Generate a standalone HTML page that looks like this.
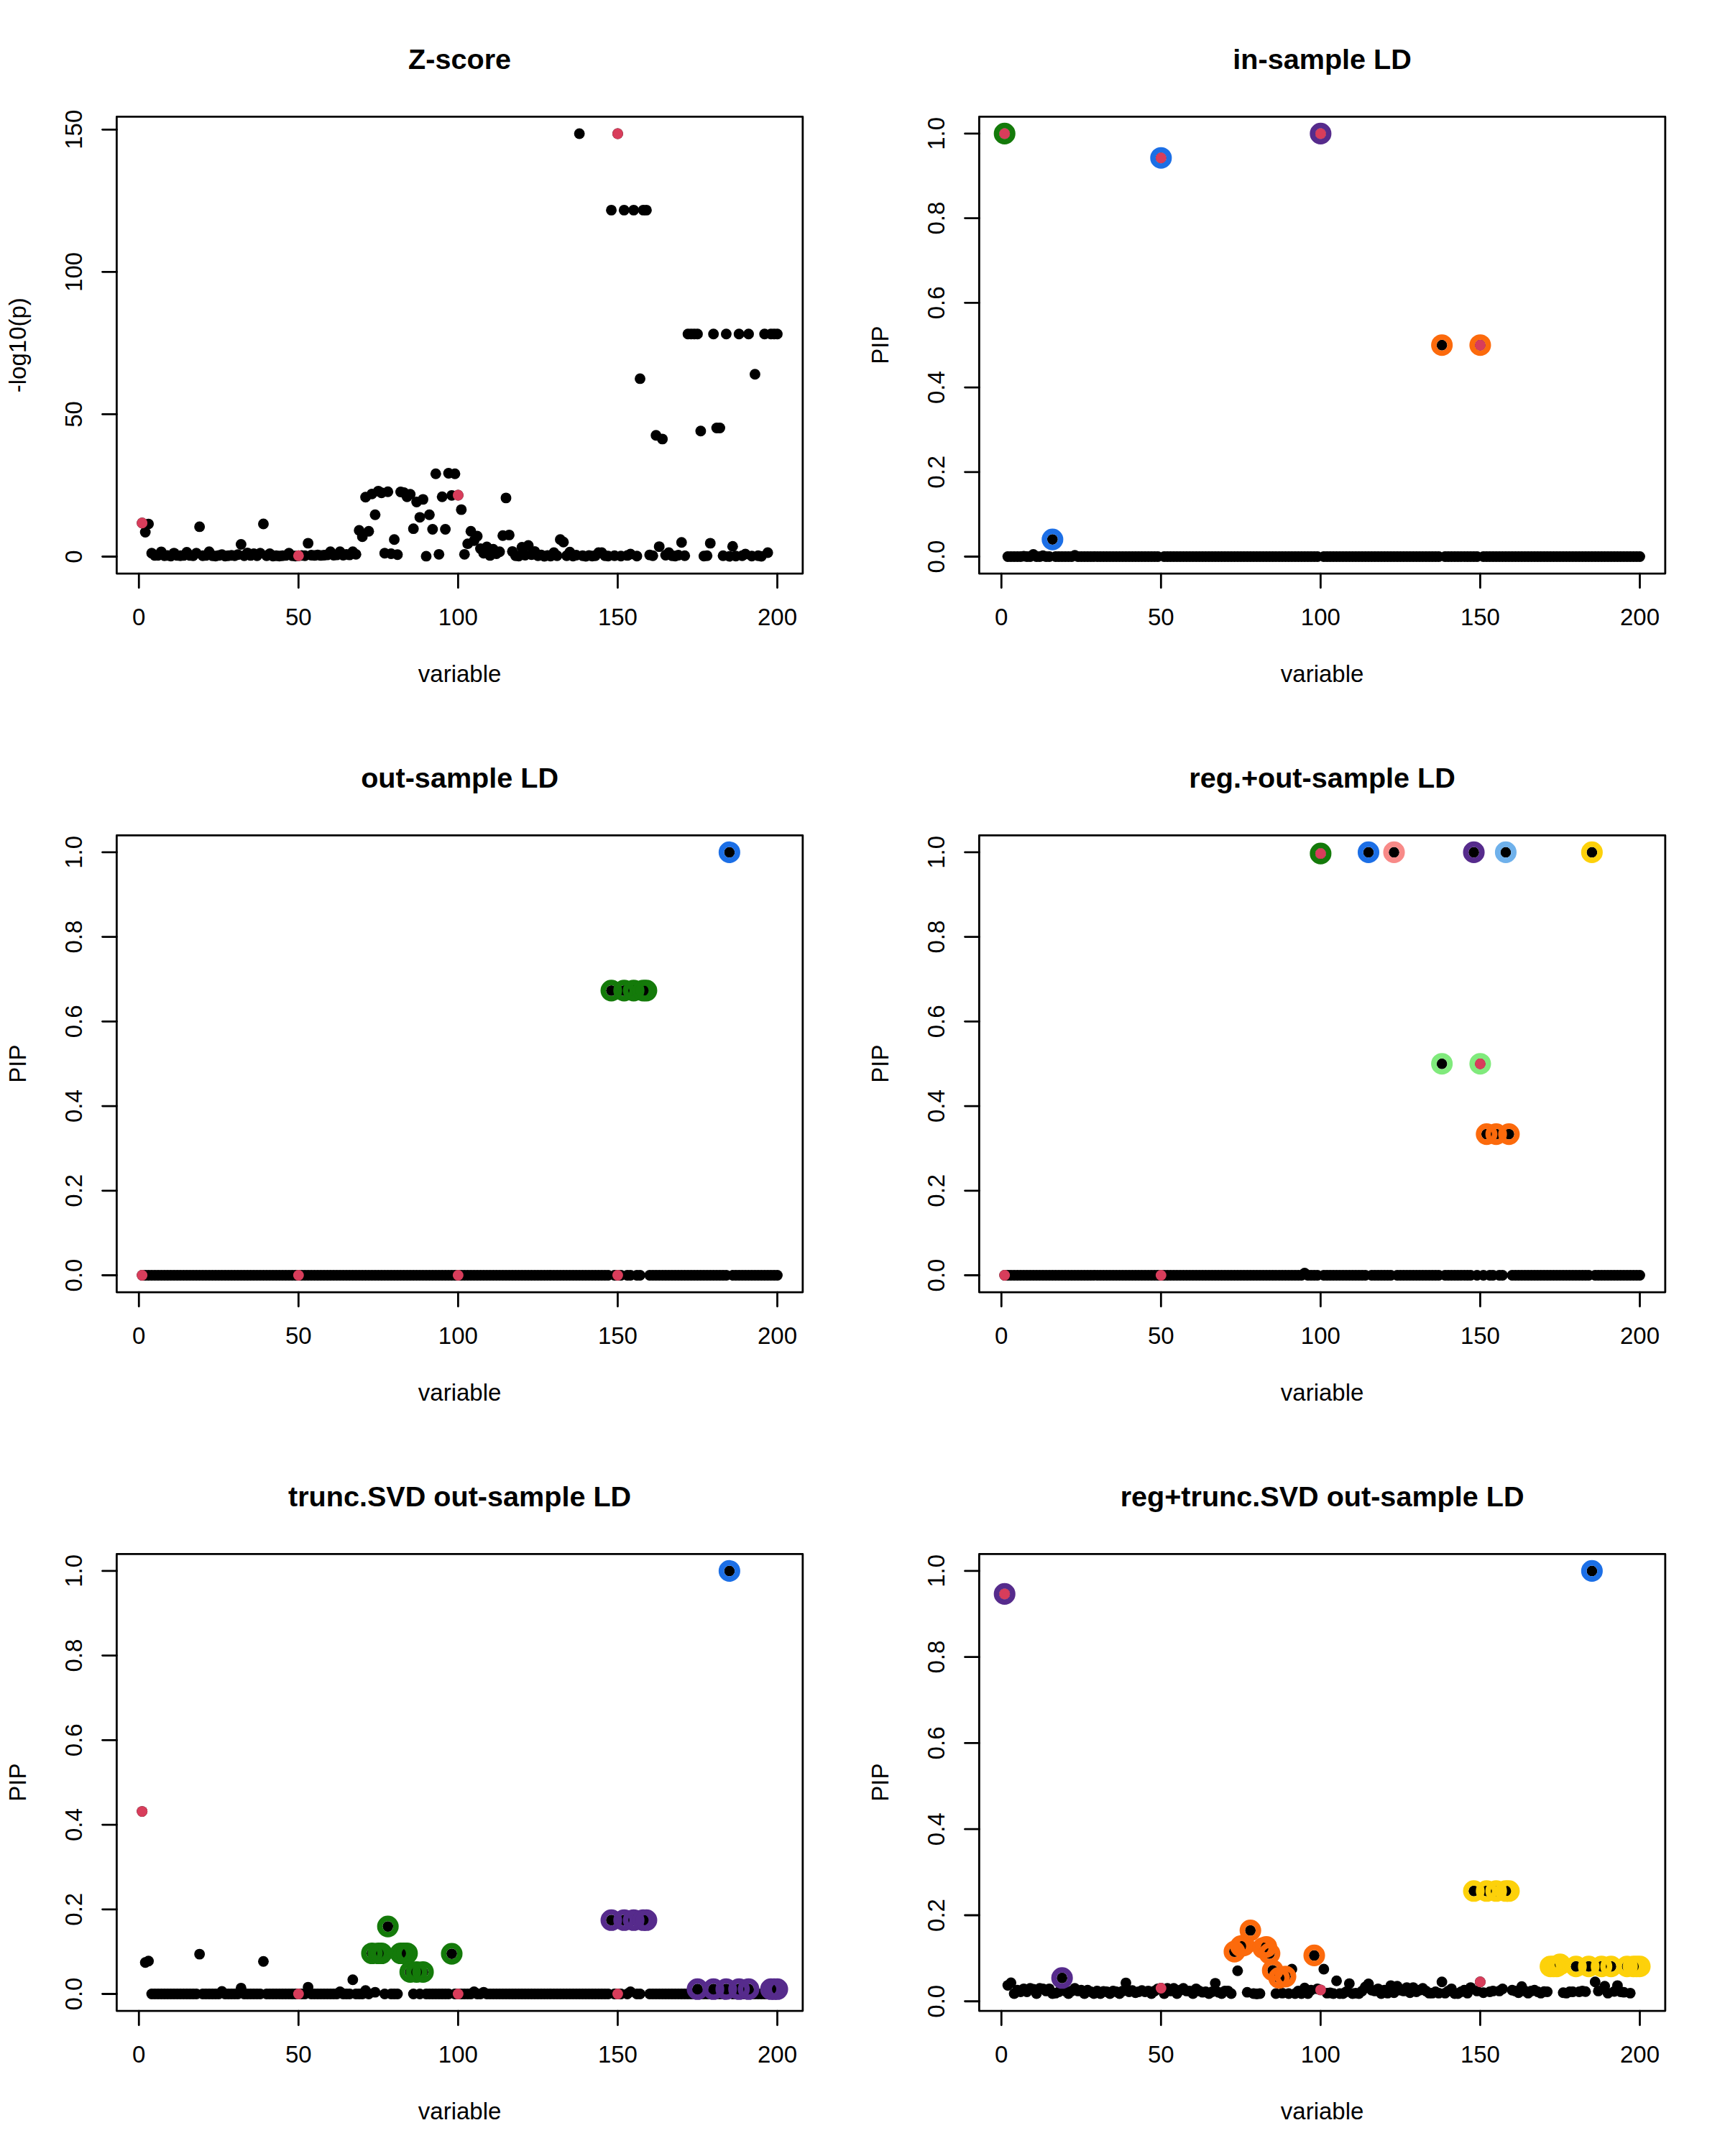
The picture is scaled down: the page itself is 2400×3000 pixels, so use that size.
<!DOCTYPE html>
<html><head><meta charset="utf-8"><title>susie plots</title>
<style>
html,body{margin:0;padding:0;background:#fff;}
svg{display:block;}
.tt{font-family:"Liberation Sans",sans-serif;font-weight:bold;font-size:39.6px;text-anchor:middle;fill:#000;}
.al{font-family:"Liberation Sans",sans-serif;font-size:33px;text-anchor:middle;fill:#000;}
.bx{fill:none;stroke:#000;stroke-width:2.8px;stroke-linejoin:round;}
.tk{stroke:#000;stroke-width:2.8px;stroke-linecap:round;}
</style></head><body>
<svg width="2400" height="3000" viewBox="0 0 2400 3000">
<rect width="2400" height="3000" fill="#fff"/>
<text x="639.6" y="96" class="tt">Z-score</text>
<rect x="162.36" y="162.36" width="954.48" height="635.68" class="bx"/>
<line x1="193.27" y1="798.04" x2="193.27" y2="817.84" class="tk"/>
<text x="193.27" y="870.04" class="al">0</text>
<line x1="415.32" y1="798.04" x2="415.32" y2="817.84" class="tk"/>
<text x="415.32" y="870.04" class="al">50</text>
<line x1="637.38" y1="798.04" x2="637.38" y2="817.84" class="tk"/>
<text x="637.38" y="870.04" class="al">100</text>
<line x1="859.43" y1="798.04" x2="859.43" y2="817.84" class="tk"/>
<text x="859.43" y="870.04" class="al">150</text>
<line x1="1081.49" y1="798.04" x2="1081.49" y2="817.84" class="tk"/>
<text x="1081.49" y="870.04" class="al">200</text>
<line x1="162.36" y1="774.5" x2="142.56" y2="774.5" class="tk"/>
<text class="al" transform="translate(114.36 774.5) rotate(-90)">0</text>
<line x1="162.36" y1="576.42" x2="142.56" y2="576.42" class="tk"/>
<text class="al" transform="translate(114.36 576.42) rotate(-90)">50</text>
<line x1="162.36" y1="378.35" x2="142.56" y2="378.35" class="tk"/>
<text class="al" transform="translate(114.36 378.35) rotate(-90)">100</text>
<line x1="162.36" y1="180.28" x2="142.56" y2="180.28" class="tk"/>
<text class="al" transform="translate(114.36 180.28) rotate(-90)">150</text>
<text x="639.6" y="949.04" class="al">variable</text>
<text class="al" transform="translate(36.36 480.2) rotate(-90)">-log10(p)</text>
<g fill="#000"><circle cx="197.71" cy="727.75" r="7.45"/><circle cx="202.15" cy="740.43" r="7.45"/><circle cx="206.59" cy="729.1" r="7.45"/><circle cx="211.03" cy="769.78" r="7.45"/><circle cx="215.48" cy="772.91" r="7.45"/><circle cx="219.92" cy="772.71" r="7.45"/><circle cx="224.36" cy="767.88" r="7.45"/><circle cx="228.8" cy="773.31" r="7.45"/><circle cx="233.24" cy="772.91" r="7.45"/><circle cx="237.68" cy="773.7" r="7.45"/><circle cx="242.12" cy="769.58" r="7.45"/><circle cx="246.56" cy="772.91" r="7.45"/><circle cx="251" cy="773.31" r="7.45"/><circle cx="255.45" cy="772.91" r="7.45"/><circle cx="259.89" cy="768.4" r="7.45"/><circle cx="264.33" cy="772.91" r="7.45"/><circle cx="268.77" cy="773.31" r="7.45"/><circle cx="273.21" cy="769.78" r="7.45"/><circle cx="277.65" cy="732.9" r="7.45"/><circle cx="282.09" cy="773.31" r="7.45"/><circle cx="286.53" cy="772.91" r="7.45"/><circle cx="290.97" cy="767.76" r="7.45"/><circle cx="295.42" cy="773.31" r="7.45"/><circle cx="299.86" cy="773.7" r="7.45"/><circle cx="304.3" cy="772.91" r="7.45"/><circle cx="308.74" cy="771.8" r="7.45"/><circle cx="313.18" cy="773.7" r="7.45"/><circle cx="317.62" cy="773.31" r="7.45"/><circle cx="322.06" cy="772.71" r="7.45"/><circle cx="326.5" cy="773.31" r="7.45"/><circle cx="330.94" cy="771.72" r="7.45"/><circle cx="335.39" cy="757.46" r="7.45"/><circle cx="339.83" cy="773.31" r="7.45"/><circle cx="344.27" cy="769.35" r="7.45"/><circle cx="348.71" cy="772.91" r="7.45"/><circle cx="353.15" cy="770.53" r="7.45"/><circle cx="357.59" cy="773.31" r="7.45"/><circle cx="362.03" cy="769.74" r="7.45"/><circle cx="366.47" cy="728.94" r="7.45"/><circle cx="370.91" cy="773.31" r="7.45"/><circle cx="375.35" cy="770.53" r="7.45"/><circle cx="379.8" cy="773.7" r="7.45"/><circle cx="384.24" cy="773.31" r="7.45"/><circle cx="388.68" cy="773.7" r="7.45"/><circle cx="393.12" cy="773.31" r="7.45"/><circle cx="397.56" cy="772.91" r="7.45"/><circle cx="402" cy="769.74" r="7.45"/><circle cx="406.44" cy="773.31" r="7.45"/><circle cx="410.88" cy="773.7" r="7.45"/><circle cx="415.32" cy="773.31" r="7.45"/><circle cx="419.77" cy="772.91" r="7.45"/><circle cx="424.21" cy="773.31" r="7.45"/><circle cx="428.65" cy="755.88" r="7.45"/><circle cx="433.09" cy="772.52" r="7.45"/><circle cx="437.53" cy="772.91" r="7.45"/><circle cx="441.97" cy="772.12" r="7.45"/><circle cx="446.41" cy="772.91" r="7.45"/><circle cx="450.85" cy="772.52" r="7.45"/><circle cx="455.29" cy="772.12" r="7.45"/><circle cx="459.74" cy="767.76" r="7.45"/><circle cx="464.18" cy="772.52" r="7.45"/><circle cx="468.62" cy="772.12" r="7.45"/><circle cx="473.06" cy="767.76" r="7.45"/><circle cx="477.5" cy="772.52" r="7.45"/><circle cx="481.94" cy="771.33" r="7.45"/><circle cx="486.38" cy="772.12" r="7.45"/><circle cx="490.82" cy="767.76" r="7.45"/><circle cx="495.26" cy="771.33" r="7.45"/><circle cx="499.71" cy="738.05" r="7.45"/><circle cx="504.15" cy="746.77" r="7.45"/><circle cx="508.59" cy="691.7" r="7.45"/><circle cx="513.03" cy="739.24" r="7.45"/><circle cx="517.47" cy="687.34" r="7.45"/><circle cx="521.91" cy="716.26" r="7.45"/><circle cx="526.35" cy="683.38" r="7.45"/><circle cx="530.79" cy="685.76" r="7.45"/><circle cx="535.23" cy="769.74" r="7.45"/><circle cx="539.68" cy="684.18" r="7.45"/><circle cx="544.12" cy="770.53" r="7.45"/><circle cx="548.56" cy="750.73" r="7.45"/><circle cx="553" cy="771.72" r="7.45"/><circle cx="557.44" cy="684.57" r="7.45"/><circle cx="561.88" cy="685.36" r="7.45"/><circle cx="566.32" cy="691.31" r="7.45"/><circle cx="570.76" cy="687.74" r="7.45"/><circle cx="575.2" cy="735.67" r="7.45"/><circle cx="579.65" cy="698.44" r="7.45"/><circle cx="584.09" cy="719.83" r="7.45"/><circle cx="588.53" cy="694.87" r="7.45"/><circle cx="592.97" cy="773.9" r="7.45"/><circle cx="597.41" cy="716.26" r="7.45"/><circle cx="601.85" cy="736.47" r="7.45"/><circle cx="606.29" cy="659.22" r="7.45"/><circle cx="610.73" cy="771.33" r="7.45"/><circle cx="615.17" cy="691.31" r="7.45"/><circle cx="619.62" cy="736.47" r="7.45"/><circle cx="624.06" cy="658.43" r="7.45"/><circle cx="628.5" cy="689.33" r="7.45"/><circle cx="632.94" cy="659.22" r="7.45"/><circle cx="637.38" cy="688.93" r="7.45"/><circle cx="641.82" cy="709.13" r="7.45"/><circle cx="646.26" cy="771.33" r="7.45"/><circle cx="650.7" cy="756.67" r="7.45"/><circle cx="655.14" cy="739.24" r="7.45"/><circle cx="659.58" cy="752.31" r="7.45"/><circle cx="664.03" cy="745.97" r="7.45"/><circle cx="668.47" cy="763.4" r="7.45"/><circle cx="672.91" cy="769.74" r="7.45"/><circle cx="677.35" cy="761.03" r="7.45"/><circle cx="681.79" cy="772.91" r="7.45"/><circle cx="686.23" cy="764.2" r="7.45"/><circle cx="690.67" cy="770.53" r="7.45"/><circle cx="695.11" cy="767.76" r="7.45"/><circle cx="699.55" cy="745.18" r="7.45"/><circle cx="704" cy="692.89" r="7.45"/><circle cx="708.44" cy="744.39" r="7.45"/><circle cx="712.88" cy="767.37" r="7.45"/><circle cx="717.32" cy="773.31" r="7.45"/><circle cx="721.76" cy="773.7" r="7.45"/><circle cx="726.2" cy="761.42" r="7.45"/><circle cx="730.64" cy="772.52" r="7.45"/><circle cx="735.08" cy="759.05" r="7.45"/><circle cx="739.52" cy="771.72" r="7.45"/><circle cx="743.97" cy="767.37" r="7.45"/><circle cx="748.41" cy="773.31" r="7.45"/><circle cx="752.85" cy="772.12" r="7.45"/><circle cx="757.29" cy="774.1" r="7.45"/><circle cx="761.73" cy="772.91" r="7.45"/><circle cx="766.17" cy="773.7" r="7.45"/><circle cx="770.61" cy="768.95" r="7.45"/><circle cx="775.05" cy="773.31" r="7.45"/><circle cx="779.49" cy="750.73" r="7.45"/><circle cx="783.94" cy="754.29" r="7.45"/><circle cx="788.38" cy="773.31" r="7.45"/><circle cx="792.82" cy="768.16" r="7.45"/><circle cx="797.26" cy="773.7" r="7.45"/><circle cx="801.7" cy="772.52" r="7.45"/><circle cx="806.14" cy="186.02" r="7.45"/><circle cx="810.58" cy="773.31" r="7.45"/><circle cx="815.02" cy="774.1" r="7.45"/><circle cx="819.46" cy="772.91" r="7.45"/><circle cx="823.91" cy="773.7" r="7.45"/><circle cx="828.35" cy="773.31" r="7.45"/><circle cx="832.79" cy="768.95" r="7.45"/><circle cx="837.23" cy="768.95" r="7.45"/><circle cx="841.67" cy="773.31" r="7.45"/><circle cx="846.11" cy="773.7" r="7.45"/><circle cx="850.55" cy="292.39" r="7.45"/><circle cx="854.99" cy="773.31" r="7.45"/><circle cx="859.43" cy="186.02" r="7.45"/><circle cx="863.88" cy="773.7" r="7.45"/><circle cx="868.32" cy="292.39" r="7.45"/><circle cx="872.76" cy="772.91" r="7.45"/><circle cx="877.2" cy="770.93" r="7.45"/><circle cx="881.64" cy="292.39" r="7.45"/><circle cx="886.08" cy="773.7" r="7.45"/><circle cx="890.52" cy="526.91" r="7.45"/><circle cx="894.96" cy="292.39" r="7.45"/><circle cx="899.4" cy="292.39" r="7.45"/><circle cx="903.85" cy="772.12" r="7.45"/><circle cx="908.29" cy="773.31" r="7.45"/><circle cx="912.73" cy="605.74" r="7.45"/><circle cx="917.17" cy="760.63" r="7.45"/><circle cx="921.61" cy="610.89" r="7.45"/><circle cx="926.05" cy="772.52" r="7.45"/><circle cx="930.49" cy="768.95" r="7.45"/><circle cx="934.93" cy="773.31" r="7.45"/><circle cx="939.37" cy="773.7" r="7.45"/><circle cx="943.81" cy="772.52" r="7.45"/><circle cx="948.26" cy="754.69" r="7.45"/><circle cx="952.7" cy="773.31" r="7.45"/><circle cx="957.14" cy="464.71" r="7.45"/><circle cx="961.58" cy="464.71" r="7.45"/><circle cx="966.02" cy="464.71" r="7.45"/><circle cx="970.46" cy="464.71" r="7.45"/><circle cx="974.9" cy="599.8" r="7.45"/><circle cx="979.34" cy="773.7" r="7.45"/><circle cx="983.78" cy="773.31" r="7.45"/><circle cx="988.23" cy="755.88" r="7.45"/><circle cx="992.67" cy="464.71" r="7.45"/><circle cx="997.11" cy="595.44" r="7.45"/><circle cx="1001.55" cy="595.44" r="7.45"/><circle cx="1005.99" cy="773.31" r="7.45"/><circle cx="1010.43" cy="464.71" r="7.45"/><circle cx="1014.87" cy="774.1" r="7.45"/><circle cx="1019.31" cy="760.24" r="7.45"/><circle cx="1023.75" cy="773.7" r="7.45"/><circle cx="1028.2" cy="464.71" r="7.45"/><circle cx="1032.64" cy="773.31" r="7.45"/><circle cx="1037.08" cy="770.93" r="7.45"/><circle cx="1041.52" cy="464.71" r="7.45"/><circle cx="1045.96" cy="773.7" r="7.45"/><circle cx="1050.4" cy="520.73" r="7.45"/><circle cx="1054.84" cy="773.31" r="7.45"/><circle cx="1059.28" cy="774.1" r="7.45"/><circle cx="1063.72" cy="464.71" r="7.45"/><circle cx="1068.17" cy="768.95" r="7.45"/><circle cx="1072.61" cy="464.71" r="7.45"/><circle cx="1077.05" cy="464.71" r="7.45"/><circle cx="1081.49" cy="464.71" r="7.45"/></g>
<g fill="#D83D5B"><circle cx="197.71" cy="727.75" r="7.45"/><circle cx="415.32" cy="773.31" r="7.45"/><circle cx="637.38" cy="688.93" r="7.45"/><circle cx="859.43" cy="186.02" r="7.45"/></g>
<text x="1839.6" y="96" class="tt">in-sample LD</text>
<rect x="1362.36" y="162.36" width="954.48" height="635.68" class="bx"/>
<line x1="1393.27" y1="798.04" x2="1393.27" y2="817.84" class="tk"/>
<text x="1393.27" y="870.04" class="al">0</text>
<line x1="1615.32" y1="798.04" x2="1615.32" y2="817.84" class="tk"/>
<text x="1615.32" y="870.04" class="al">50</text>
<line x1="1837.38" y1="798.04" x2="1837.38" y2="817.84" class="tk"/>
<text x="1837.38" y="870.04" class="al">100</text>
<line x1="2059.43" y1="798.04" x2="2059.43" y2="817.84" class="tk"/>
<text x="2059.43" y="870.04" class="al">150</text>
<line x1="2281.49" y1="798.04" x2="2281.49" y2="817.84" class="tk"/>
<text x="2281.49" y="870.04" class="al">200</text>
<line x1="1362.36" y1="774.5" x2="1342.56" y2="774.5" class="tk"/>
<text class="al" transform="translate(1314.36 774.5) rotate(-90)">0.0</text>
<line x1="1362.36" y1="656.78" x2="1342.56" y2="656.78" class="tk"/>
<text class="al" transform="translate(1314.36 656.78) rotate(-90)">0.2</text>
<line x1="1362.36" y1="539.06" x2="1342.56" y2="539.06" class="tk"/>
<text class="al" transform="translate(1314.36 539.06) rotate(-90)">0.4</text>
<line x1="1362.36" y1="421.34" x2="1342.56" y2="421.34" class="tk"/>
<text class="al" transform="translate(1314.36 421.34) rotate(-90)">0.6</text>
<line x1="1362.36" y1="303.62" x2="1342.56" y2="303.62" class="tk"/>
<text class="al" transform="translate(1314.36 303.62) rotate(-90)">0.8</text>
<line x1="1362.36" y1="185.9" x2="1342.56" y2="185.9" class="tk"/>
<text class="al" transform="translate(1314.36 185.9) rotate(-90)">1.0</text>
<text x="1839.6" y="949.04" class="al">variable</text>
<text class="al" transform="translate(1236.36 480.2) rotate(-90)">PIP</text>
<g fill="#000"><circle cx="1397.71" cy="185.9" r="7.45"/><circle cx="1402.15" cy="774.5" r="7.45"/><circle cx="1406.59" cy="774.5" r="7.45"/><circle cx="1411.03" cy="774.5" r="7.45"/><circle cx="1415.48" cy="774.5" r="7.45"/><circle cx="1419.92" cy="774.5" r="7.45"/><circle cx="1424.36" cy="773.91" r="7.45"/><circle cx="1428.8" cy="774.5" r="7.45"/><circle cx="1433.24" cy="774.5" r="7.45"/><circle cx="1437.68" cy="771.55" r="7.45"/><circle cx="1442.12" cy="774.5" r="7.45"/><circle cx="1446.56" cy="774.5" r="7.45"/><circle cx="1451" cy="773.32" r="7.45"/><circle cx="1455.45" cy="774.5" r="7.45"/><circle cx="1459.89" cy="774.5" r="7.45"/><circle cx="1464.33" cy="750.6" r="7.45"/><circle cx="1468.77" cy="774.5" r="7.45"/><circle cx="1473.21" cy="774.5" r="7.45"/><circle cx="1477.65" cy="774.5" r="7.45"/><circle cx="1482.09" cy="774.5" r="7.45"/><circle cx="1486.53" cy="774.5" r="7.45"/><circle cx="1490.97" cy="774.5" r="7.45"/><circle cx="1495.42" cy="772.73" r="7.45"/><circle cx="1499.86" cy="774.5" r="7.45"/><circle cx="1504.3" cy="774.5" r="7.45"/><circle cx="1508.74" cy="774.5" r="7.45"/><circle cx="1513.18" cy="774.5" r="7.45"/><circle cx="1517.62" cy="774.5" r="7.45"/><circle cx="1522.06" cy="774.5" r="7.45"/><circle cx="1526.5" cy="774.5" r="7.45"/><circle cx="1530.94" cy="774.5" r="7.45"/><circle cx="1535.39" cy="774.5" r="7.45"/><circle cx="1539.83" cy="774.5" r="7.45"/><circle cx="1544.27" cy="774.5" r="7.45"/><circle cx="1548.71" cy="774.5" r="7.45"/><circle cx="1553.15" cy="774.5" r="7.45"/><circle cx="1557.59" cy="774.5" r="7.45"/><circle cx="1562.03" cy="774.5" r="7.45"/><circle cx="1566.47" cy="774.5" r="7.45"/><circle cx="1570.91" cy="774.5" r="7.45"/><circle cx="1575.35" cy="774.5" r="7.45"/><circle cx="1579.8" cy="774.5" r="7.45"/><circle cx="1584.24" cy="774.5" r="7.45"/><circle cx="1588.68" cy="774.5" r="7.45"/><circle cx="1593.12" cy="774.5" r="7.45"/><circle cx="1597.56" cy="774.5" r="7.45"/><circle cx="1602" cy="774.5" r="7.45"/><circle cx="1606.44" cy="774.5" r="7.45"/><circle cx="1610.88" cy="774.5" r="7.45"/><circle cx="1615.32" cy="219.69" r="7.45"/><circle cx="1619.77" cy="774.5" r="7.45"/><circle cx="1624.21" cy="774.5" r="7.45"/><circle cx="1628.65" cy="774.5" r="7.45"/><circle cx="1633.09" cy="774.5" r="7.45"/><circle cx="1637.53" cy="774.5" r="7.45"/><circle cx="1641.97" cy="774.5" r="7.45"/><circle cx="1646.41" cy="774.5" r="7.45"/><circle cx="1650.85" cy="774.5" r="7.45"/><circle cx="1655.29" cy="774.5" r="7.45"/><circle cx="1659.74" cy="774.5" r="7.45"/><circle cx="1664.18" cy="774.5" r="7.45"/><circle cx="1668.62" cy="774.5" r="7.45"/><circle cx="1673.06" cy="774.5" r="7.45"/><circle cx="1677.5" cy="774.5" r="7.45"/><circle cx="1681.94" cy="774.5" r="7.45"/><circle cx="1686.38" cy="774.5" r="7.45"/><circle cx="1690.82" cy="774.5" r="7.45"/><circle cx="1695.26" cy="774.5" r="7.45"/><circle cx="1699.71" cy="774.5" r="7.45"/><circle cx="1704.15" cy="774.5" r="7.45"/><circle cx="1708.59" cy="774.5" r="7.45"/><circle cx="1713.03" cy="774.5" r="7.45"/><circle cx="1717.47" cy="774.5" r="7.45"/><circle cx="1721.91" cy="774.5" r="7.45"/><circle cx="1726.35" cy="774.5" r="7.45"/><circle cx="1730.79" cy="774.5" r="7.45"/><circle cx="1735.23" cy="774.5" r="7.45"/><circle cx="1739.68" cy="774.5" r="7.45"/><circle cx="1744.12" cy="774.5" r="7.45"/><circle cx="1748.56" cy="774.5" r="7.45"/><circle cx="1753" cy="774.5" r="7.45"/><circle cx="1757.44" cy="774.5" r="7.45"/><circle cx="1761.88" cy="774.5" r="7.45"/><circle cx="1766.32" cy="774.5" r="7.45"/><circle cx="1770.76" cy="774.5" r="7.45"/><circle cx="1775.2" cy="774.5" r="7.45"/><circle cx="1779.65" cy="774.5" r="7.45"/><circle cx="1784.09" cy="774.5" r="7.45"/><circle cx="1788.53" cy="774.5" r="7.45"/><circle cx="1792.97" cy="774.5" r="7.45"/><circle cx="1797.41" cy="774.5" r="7.45"/><circle cx="1801.85" cy="774.5" r="7.45"/><circle cx="1806.29" cy="774.5" r="7.45"/><circle cx="1810.73" cy="774.5" r="7.45"/><circle cx="1815.17" cy="774.5" r="7.45"/><circle cx="1819.62" cy="774.5" r="7.45"/><circle cx="1824.06" cy="774.5" r="7.45"/><circle cx="1828.5" cy="774.5" r="7.45"/><circle cx="1832.94" cy="774.5" r="7.45"/><circle cx="1837.38" cy="185.9" r="7.45"/><circle cx="1841.82" cy="774.5" r="7.45"/><circle cx="1846.26" cy="774.5" r="7.45"/><circle cx="1850.7" cy="774.5" r="7.45"/><circle cx="1855.14" cy="774.5" r="7.45"/><circle cx="1859.58" cy="774.5" r="7.45"/><circle cx="1864.03" cy="774.5" r="7.45"/><circle cx="1868.47" cy="774.5" r="7.45"/><circle cx="1872.91" cy="774.5" r="7.45"/><circle cx="1877.35" cy="774.5" r="7.45"/><circle cx="1881.79" cy="774.5" r="7.45"/><circle cx="1886.23" cy="774.5" r="7.45"/><circle cx="1890.67" cy="774.5" r="7.45"/><circle cx="1895.11" cy="774.5" r="7.45"/><circle cx="1899.55" cy="774.5" r="7.45"/><circle cx="1904" cy="774.5" r="7.45"/><circle cx="1908.44" cy="774.5" r="7.45"/><circle cx="1912.88" cy="774.5" r="7.45"/><circle cx="1917.32" cy="774.5" r="7.45"/><circle cx="1921.76" cy="774.5" r="7.45"/><circle cx="1926.2" cy="774.5" r="7.45"/><circle cx="1930.64" cy="774.5" r="7.45"/><circle cx="1935.08" cy="774.5" r="7.45"/><circle cx="1939.52" cy="774.5" r="7.45"/><circle cx="1943.97" cy="774.5" r="7.45"/><circle cx="1948.41" cy="774.5" r="7.45"/><circle cx="1952.85" cy="774.5" r="7.45"/><circle cx="1957.29" cy="774.5" r="7.45"/><circle cx="1961.73" cy="774.5" r="7.45"/><circle cx="1966.17" cy="774.5" r="7.45"/><circle cx="1970.61" cy="774.5" r="7.45"/><circle cx="1975.05" cy="774.5" r="7.45"/><circle cx="1979.49" cy="774.5" r="7.45"/><circle cx="1983.94" cy="774.5" r="7.45"/><circle cx="1988.38" cy="774.5" r="7.45"/><circle cx="1992.82" cy="774.5" r="7.45"/><circle cx="1997.26" cy="774.5" r="7.45"/><circle cx="2001.7" cy="774.5" r="7.45"/><circle cx="2006.14" cy="480.2" r="7.45"/><circle cx="2010.58" cy="774.5" r="7.45"/><circle cx="2015.02" cy="774.5" r="7.45"/><circle cx="2019.46" cy="774.5" r="7.45"/><circle cx="2023.91" cy="774.5" r="7.45"/><circle cx="2028.35" cy="774.5" r="7.45"/><circle cx="2032.79" cy="774.5" r="7.45"/><circle cx="2037.23" cy="774.5" r="7.45"/><circle cx="2041.67" cy="774.5" r="7.45"/><circle cx="2046.11" cy="774.5" r="7.45"/><circle cx="2050.55" cy="774.5" r="7.45"/><circle cx="2054.99" cy="774.5" r="7.45"/><circle cx="2059.43" cy="480.2" r="7.45"/><circle cx="2063.88" cy="774.5" r="7.45"/><circle cx="2068.32" cy="774.5" r="7.45"/><circle cx="2072.76" cy="774.5" r="7.45"/><circle cx="2077.2" cy="774.5" r="7.45"/><circle cx="2081.64" cy="774.5" r="7.45"/><circle cx="2086.08" cy="774.5" r="7.45"/><circle cx="2090.52" cy="774.5" r="7.45"/><circle cx="2094.96" cy="774.5" r="7.45"/><circle cx="2099.4" cy="774.5" r="7.45"/><circle cx="2103.85" cy="774.5" r="7.45"/><circle cx="2108.29" cy="774.5" r="7.45"/><circle cx="2112.73" cy="774.5" r="7.45"/><circle cx="2117.17" cy="774.5" r="7.45"/><circle cx="2121.61" cy="774.5" r="7.45"/><circle cx="2126.05" cy="774.5" r="7.45"/><circle cx="2130.49" cy="774.5" r="7.45"/><circle cx="2134.93" cy="774.5" r="7.45"/><circle cx="2139.37" cy="774.5" r="7.45"/><circle cx="2143.81" cy="774.5" r="7.45"/><circle cx="2148.26" cy="774.5" r="7.45"/><circle cx="2152.7" cy="774.5" r="7.45"/><circle cx="2157.14" cy="774.5" r="7.45"/><circle cx="2161.58" cy="774.5" r="7.45"/><circle cx="2166.02" cy="774.5" r="7.45"/><circle cx="2170.46" cy="774.5" r="7.45"/><circle cx="2174.9" cy="774.5" r="7.45"/><circle cx="2179.34" cy="774.5" r="7.45"/><circle cx="2183.78" cy="774.5" r="7.45"/><circle cx="2188.23" cy="774.5" r="7.45"/><circle cx="2192.67" cy="774.5" r="7.45"/><circle cx="2197.11" cy="774.5" r="7.45"/><circle cx="2201.55" cy="774.5" r="7.45"/><circle cx="2205.99" cy="774.5" r="7.45"/><circle cx="2210.43" cy="774.5" r="7.45"/><circle cx="2214.87" cy="774.5" r="7.45"/><circle cx="2219.31" cy="774.5" r="7.45"/><circle cx="2223.75" cy="774.5" r="7.45"/><circle cx="2228.2" cy="774.5" r="7.45"/><circle cx="2232.64" cy="774.5" r="7.45"/><circle cx="2237.08" cy="774.5" r="7.45"/><circle cx="2241.52" cy="774.5" r="7.45"/><circle cx="2245.96" cy="774.5" r="7.45"/><circle cx="2250.4" cy="774.5" r="7.45"/><circle cx="2254.84" cy="774.5" r="7.45"/><circle cx="2259.28" cy="774.5" r="7.45"/><circle cx="2263.72" cy="774.5" r="7.45"/><circle cx="2268.17" cy="774.5" r="7.45"/><circle cx="2272.61" cy="774.5" r="7.45"/><circle cx="2277.05" cy="774.5" r="7.45"/><circle cx="2281.49" cy="774.5" r="7.45"/></g>
<circle cx="1464.33" cy="750.6" r="11.25" fill="none" stroke="#1C6FE6" stroke-width="7.6"/>
<circle cx="1615.32" cy="219.69" r="11.25" fill="none" stroke="#1C6FE6" stroke-width="7.6"/>
<circle cx="1397.71" cy="185.9" r="11.25" fill="none" stroke="#147A0A" stroke-width="7.6"/>
<circle cx="1837.38" cy="185.9" r="11.25" fill="none" stroke="#562B8C" stroke-width="7.6"/>
<circle cx="2006.14" cy="480.2" r="11.25" fill="none" stroke="#FC6A0C" stroke-width="7.6"/>
<circle cx="2059.43" cy="480.2" r="11.25" fill="none" stroke="#FC6A0C" stroke-width="7.6"/>
<g fill="#D83D5B"><circle cx="1397.71" cy="185.9" r="7.45"/><circle cx="1615.32" cy="219.69" r="7.45"/><circle cx="1837.38" cy="185.9" r="7.45"/><circle cx="2059.43" cy="480.2" r="7.45"/></g>
<text x="639.6" y="1096" class="tt">out-sample LD</text>
<rect x="162.36" y="1162.36" width="954.48" height="635.68" class="bx"/>
<line x1="193.27" y1="1798.04" x2="193.27" y2="1817.84" class="tk"/>
<text x="193.27" y="1870.04" class="al">0</text>
<line x1="415.32" y1="1798.04" x2="415.32" y2="1817.84" class="tk"/>
<text x="415.32" y="1870.04" class="al">50</text>
<line x1="637.38" y1="1798.04" x2="637.38" y2="1817.84" class="tk"/>
<text x="637.38" y="1870.04" class="al">100</text>
<line x1="859.43" y1="1798.04" x2="859.43" y2="1817.84" class="tk"/>
<text x="859.43" y="1870.04" class="al">150</text>
<line x1="1081.49" y1="1798.04" x2="1081.49" y2="1817.84" class="tk"/>
<text x="1081.49" y="1870.04" class="al">200</text>
<line x1="162.36" y1="1774.5" x2="142.56" y2="1774.5" class="tk"/>
<text class="al" transform="translate(114.36 1774.5) rotate(-90)">0.0</text>
<line x1="162.36" y1="1656.78" x2="142.56" y2="1656.78" class="tk"/>
<text class="al" transform="translate(114.36 1656.78) rotate(-90)">0.2</text>
<line x1="162.36" y1="1539.06" x2="142.56" y2="1539.06" class="tk"/>
<text class="al" transform="translate(114.36 1539.06) rotate(-90)">0.4</text>
<line x1="162.36" y1="1421.34" x2="142.56" y2="1421.34" class="tk"/>
<text class="al" transform="translate(114.36 1421.34) rotate(-90)">0.6</text>
<line x1="162.36" y1="1303.62" x2="142.56" y2="1303.62" class="tk"/>
<text class="al" transform="translate(114.36 1303.62) rotate(-90)">0.8</text>
<line x1="162.36" y1="1185.9" x2="142.56" y2="1185.9" class="tk"/>
<text class="al" transform="translate(114.36 1185.9) rotate(-90)">1.0</text>
<text x="639.6" y="1949.04" class="al">variable</text>
<text class="al" transform="translate(36.36 1480.2) rotate(-90)">PIP</text>
<g fill="#000"><circle cx="197.71" cy="1774.5" r="7.45"/><circle cx="202.15" cy="1774.5" r="7.45"/><circle cx="206.59" cy="1774.5" r="7.45"/><circle cx="211.03" cy="1774.5" r="7.45"/><circle cx="215.48" cy="1774.5" r="7.45"/><circle cx="219.92" cy="1774.5" r="7.45"/><circle cx="224.36" cy="1774.5" r="7.45"/><circle cx="228.8" cy="1774.5" r="7.45"/><circle cx="233.24" cy="1774.5" r="7.45"/><circle cx="237.68" cy="1774.5" r="7.45"/><circle cx="242.12" cy="1774.5" r="7.45"/><circle cx="246.56" cy="1774.5" r="7.45"/><circle cx="251" cy="1774.5" r="7.45"/><circle cx="255.45" cy="1774.5" r="7.45"/><circle cx="259.89" cy="1774.5" r="7.45"/><circle cx="264.33" cy="1774.5" r="7.45"/><circle cx="268.77" cy="1774.5" r="7.45"/><circle cx="273.21" cy="1774.5" r="7.45"/><circle cx="277.65" cy="1774.5" r="7.45"/><circle cx="282.09" cy="1774.5" r="7.45"/><circle cx="286.53" cy="1774.5" r="7.45"/><circle cx="290.97" cy="1774.5" r="7.45"/><circle cx="295.42" cy="1774.5" r="7.45"/><circle cx="299.86" cy="1774.5" r="7.45"/><circle cx="304.3" cy="1774.5" r="7.45"/><circle cx="308.74" cy="1774.5" r="7.45"/><circle cx="313.18" cy="1774.5" r="7.45"/><circle cx="317.62" cy="1774.5" r="7.45"/><circle cx="322.06" cy="1774.5" r="7.45"/><circle cx="326.5" cy="1774.5" r="7.45"/><circle cx="330.94" cy="1774.5" r="7.45"/><circle cx="335.39" cy="1774.5" r="7.45"/><circle cx="339.83" cy="1774.5" r="7.45"/><circle cx="344.27" cy="1774.5" r="7.45"/><circle cx="348.71" cy="1774.5" r="7.45"/><circle cx="353.15" cy="1774.5" r="7.45"/><circle cx="357.59" cy="1774.5" r="7.45"/><circle cx="362.03" cy="1774.5" r="7.45"/><circle cx="366.47" cy="1774.5" r="7.45"/><circle cx="370.91" cy="1774.5" r="7.45"/><circle cx="375.35" cy="1774.5" r="7.45"/><circle cx="379.8" cy="1774.5" r="7.45"/><circle cx="384.24" cy="1774.5" r="7.45"/><circle cx="388.68" cy="1774.5" r="7.45"/><circle cx="393.12" cy="1774.5" r="7.45"/><circle cx="397.56" cy="1774.5" r="7.45"/><circle cx="402" cy="1774.5" r="7.45"/><circle cx="406.44" cy="1774.5" r="7.45"/><circle cx="410.88" cy="1774.5" r="7.45"/><circle cx="415.32" cy="1774.5" r="7.45"/><circle cx="419.77" cy="1774.5" r="7.45"/><circle cx="424.21" cy="1774.5" r="7.45"/><circle cx="428.65" cy="1774.5" r="7.45"/><circle cx="433.09" cy="1774.5" r="7.45"/><circle cx="437.53" cy="1774.5" r="7.45"/><circle cx="441.97" cy="1774.5" r="7.45"/><circle cx="446.41" cy="1774.5" r="7.45"/><circle cx="450.85" cy="1774.5" r="7.45"/><circle cx="455.29" cy="1774.5" r="7.45"/><circle cx="459.74" cy="1774.5" r="7.45"/><circle cx="464.18" cy="1774.5" r="7.45"/><circle cx="468.62" cy="1774.5" r="7.45"/><circle cx="473.06" cy="1774.5" r="7.45"/><circle cx="477.5" cy="1774.5" r="7.45"/><circle cx="481.94" cy="1774.5" r="7.45"/><circle cx="486.38" cy="1774.5" r="7.45"/><circle cx="490.82" cy="1774.5" r="7.45"/><circle cx="495.26" cy="1774.5" r="7.45"/><circle cx="499.71" cy="1774.5" r="7.45"/><circle cx="504.15" cy="1774.5" r="7.45"/><circle cx="508.59" cy="1774.5" r="7.45"/><circle cx="513.03" cy="1774.5" r="7.45"/><circle cx="517.47" cy="1774.5" r="7.45"/><circle cx="521.91" cy="1774.5" r="7.45"/><circle cx="526.35" cy="1774.5" r="7.45"/><circle cx="530.79" cy="1774.5" r="7.45"/><circle cx="535.23" cy="1774.5" r="7.45"/><circle cx="539.68" cy="1774.5" r="7.45"/><circle cx="544.12" cy="1774.5" r="7.45"/><circle cx="548.56" cy="1774.5" r="7.45"/><circle cx="553" cy="1774.5" r="7.45"/><circle cx="557.44" cy="1774.5" r="7.45"/><circle cx="561.88" cy="1774.5" r="7.45"/><circle cx="566.32" cy="1774.5" r="7.45"/><circle cx="570.76" cy="1774.5" r="7.45"/><circle cx="575.2" cy="1774.5" r="7.45"/><circle cx="579.65" cy="1774.5" r="7.45"/><circle cx="584.09" cy="1774.5" r="7.45"/><circle cx="588.53" cy="1774.5" r="7.45"/><circle cx="592.97" cy="1774.5" r="7.45"/><circle cx="597.41" cy="1774.5" r="7.45"/><circle cx="601.85" cy="1774.5" r="7.45"/><circle cx="606.29" cy="1774.5" r="7.45"/><circle cx="610.73" cy="1774.5" r="7.45"/><circle cx="615.17" cy="1774.5" r="7.45"/><circle cx="619.62" cy="1774.5" r="7.45"/><circle cx="624.06" cy="1774.5" r="7.45"/><circle cx="628.5" cy="1774.5" r="7.45"/><circle cx="632.94" cy="1774.5" r="7.45"/><circle cx="637.38" cy="1774.5" r="7.45"/><circle cx="641.82" cy="1774.5" r="7.45"/><circle cx="646.26" cy="1774.5" r="7.45"/><circle cx="650.7" cy="1774.5" r="7.45"/><circle cx="655.14" cy="1774.5" r="7.45"/><circle cx="659.58" cy="1774.5" r="7.45"/><circle cx="664.03" cy="1774.5" r="7.45"/><circle cx="668.47" cy="1774.5" r="7.45"/><circle cx="672.91" cy="1774.5" r="7.45"/><circle cx="677.35" cy="1774.5" r="7.45"/><circle cx="681.79" cy="1774.5" r="7.45"/><circle cx="686.23" cy="1774.5" r="7.45"/><circle cx="690.67" cy="1774.5" r="7.45"/><circle cx="695.11" cy="1774.5" r="7.45"/><circle cx="699.55" cy="1774.5" r="7.45"/><circle cx="704" cy="1774.5" r="7.45"/><circle cx="708.44" cy="1774.5" r="7.45"/><circle cx="712.88" cy="1774.5" r="7.45"/><circle cx="717.32" cy="1774.5" r="7.45"/><circle cx="721.76" cy="1774.5" r="7.45"/><circle cx="726.2" cy="1774.5" r="7.45"/><circle cx="730.64" cy="1774.5" r="7.45"/><circle cx="735.08" cy="1774.5" r="7.45"/><circle cx="739.52" cy="1774.5" r="7.45"/><circle cx="743.97" cy="1774.5" r="7.45"/><circle cx="748.41" cy="1774.5" r="7.45"/><circle cx="752.85" cy="1774.5" r="7.45"/><circle cx="757.29" cy="1774.5" r="7.45"/><circle cx="761.73" cy="1774.5" r="7.45"/><circle cx="766.17" cy="1774.5" r="7.45"/><circle cx="770.61" cy="1774.5" r="7.45"/><circle cx="775.05" cy="1774.5" r="7.45"/><circle cx="779.49" cy="1774.5" r="7.45"/><circle cx="783.94" cy="1774.5" r="7.45"/><circle cx="788.38" cy="1774.5" r="7.45"/><circle cx="792.82" cy="1774.5" r="7.45"/><circle cx="797.26" cy="1774.5" r="7.45"/><circle cx="801.7" cy="1774.5" r="7.45"/><circle cx="806.14" cy="1774.5" r="7.45"/><circle cx="810.58" cy="1774.5" r="7.45"/><circle cx="815.02" cy="1774.5" r="7.45"/><circle cx="819.46" cy="1774.5" r="7.45"/><circle cx="823.91" cy="1774.5" r="7.45"/><circle cx="828.35" cy="1774.5" r="7.45"/><circle cx="832.79" cy="1774.5" r="7.45"/><circle cx="837.23" cy="1774.5" r="7.45"/><circle cx="841.67" cy="1774.5" r="7.45"/><circle cx="846.11" cy="1774.5" r="7.45"/><circle cx="850.55" cy="1378.37" r="7.45"/><circle cx="854.99" cy="1774.5" r="7.45"/><circle cx="859.43" cy="1774.5" r="7.45"/><circle cx="863.88" cy="1774.5" r="7.45"/><circle cx="868.32" cy="1378.37" r="7.45"/><circle cx="872.76" cy="1774.5" r="7.45"/><circle cx="877.2" cy="1774.5" r="7.45"/><circle cx="881.64" cy="1378.37" r="7.45"/><circle cx="886.08" cy="1774.5" r="7.45"/><circle cx="890.52" cy="1774.5" r="7.45"/><circle cx="894.96" cy="1378.37" r="7.45"/><circle cx="899.4" cy="1378.37" r="7.45"/><circle cx="903.85" cy="1774.5" r="7.45"/><circle cx="908.29" cy="1774.5" r="7.45"/><circle cx="912.73" cy="1774.5" r="7.45"/><circle cx="917.17" cy="1774.5" r="7.45"/><circle cx="921.61" cy="1774.5" r="7.45"/><circle cx="926.05" cy="1774.5" r="7.45"/><circle cx="930.49" cy="1774.5" r="7.45"/><circle cx="934.93" cy="1774.5" r="7.45"/><circle cx="939.37" cy="1774.5" r="7.45"/><circle cx="943.81" cy="1774.5" r="7.45"/><circle cx="948.26" cy="1774.5" r="7.45"/><circle cx="952.7" cy="1774.5" r="7.45"/><circle cx="957.14" cy="1774.5" r="7.45"/><circle cx="961.58" cy="1774.5" r="7.45"/><circle cx="966.02" cy="1774.5" r="7.45"/><circle cx="970.46" cy="1774.5" r="7.45"/><circle cx="974.9" cy="1774.5" r="7.45"/><circle cx="979.34" cy="1774.5" r="7.45"/><circle cx="983.78" cy="1774.5" r="7.45"/><circle cx="988.23" cy="1774.5" r="7.45"/><circle cx="992.67" cy="1774.5" r="7.45"/><circle cx="997.11" cy="1774.5" r="7.45"/><circle cx="1001.55" cy="1774.5" r="7.45"/><circle cx="1005.99" cy="1774.5" r="7.45"/><circle cx="1010.43" cy="1774.5" r="7.45"/><circle cx="1014.87" cy="1185.9" r="7.45"/><circle cx="1019.31" cy="1774.5" r="7.45"/><circle cx="1023.75" cy="1774.5" r="7.45"/><circle cx="1028.2" cy="1774.5" r="7.45"/><circle cx="1032.64" cy="1774.5" r="7.45"/><circle cx="1037.08" cy="1774.5" r="7.45"/><circle cx="1041.52" cy="1774.5" r="7.45"/><circle cx="1045.96" cy="1774.5" r="7.45"/><circle cx="1050.4" cy="1774.5" r="7.45"/><circle cx="1054.84" cy="1774.5" r="7.45"/><circle cx="1059.28" cy="1774.5" r="7.45"/><circle cx="1063.72" cy="1774.5" r="7.45"/><circle cx="1068.17" cy="1774.5" r="7.45"/><circle cx="1072.61" cy="1774.5" r="7.45"/><circle cx="1077.05" cy="1774.5" r="7.45"/><circle cx="1081.49" cy="1774.5" r="7.45"/></g>
<circle cx="1014.87" cy="1185.9" r="11.25" fill="none" stroke="#1C6FE6" stroke-width="7.6"/>
<circle cx="850.55" cy="1378.37" r="11.25" fill="none" stroke="#147A0A" stroke-width="7.6"/>
<circle cx="868.32" cy="1378.37" r="11.25" fill="none" stroke="#147A0A" stroke-width="7.6"/>
<circle cx="881.64" cy="1378.37" r="11.25" fill="none" stroke="#147A0A" stroke-width="7.6"/>
<circle cx="894.96" cy="1378.37" r="11.25" fill="none" stroke="#147A0A" stroke-width="7.6"/>
<circle cx="899.4" cy="1378.37" r="11.25" fill="none" stroke="#147A0A" stroke-width="7.6"/>
<g fill="#D83D5B"><circle cx="197.71" cy="1774.5" r="7.45"/><circle cx="415.32" cy="1774.5" r="7.45"/><circle cx="637.38" cy="1774.5" r="7.45"/><circle cx="859.43" cy="1774.5" r="7.45"/></g>
<text x="1839.6" y="1096" class="tt">reg.+out-sample LD</text>
<rect x="1362.36" y="1162.36" width="954.48" height="635.68" class="bx"/>
<line x1="1393.27" y1="1798.04" x2="1393.27" y2="1817.84" class="tk"/>
<text x="1393.27" y="1870.04" class="al">0</text>
<line x1="1615.32" y1="1798.04" x2="1615.32" y2="1817.84" class="tk"/>
<text x="1615.32" y="1870.04" class="al">50</text>
<line x1="1837.38" y1="1798.04" x2="1837.38" y2="1817.84" class="tk"/>
<text x="1837.38" y="1870.04" class="al">100</text>
<line x1="2059.43" y1="1798.04" x2="2059.43" y2="1817.84" class="tk"/>
<text x="2059.43" y="1870.04" class="al">150</text>
<line x1="2281.49" y1="1798.04" x2="2281.49" y2="1817.84" class="tk"/>
<text x="2281.49" y="1870.04" class="al">200</text>
<line x1="1362.36" y1="1774.5" x2="1342.56" y2="1774.5" class="tk"/>
<text class="al" transform="translate(1314.36 1774.5) rotate(-90)">0.0</text>
<line x1="1362.36" y1="1656.78" x2="1342.56" y2="1656.78" class="tk"/>
<text class="al" transform="translate(1314.36 1656.78) rotate(-90)">0.2</text>
<line x1="1362.36" y1="1539.06" x2="1342.56" y2="1539.06" class="tk"/>
<text class="al" transform="translate(1314.36 1539.06) rotate(-90)">0.4</text>
<line x1="1362.36" y1="1421.34" x2="1342.56" y2="1421.34" class="tk"/>
<text class="al" transform="translate(1314.36 1421.34) rotate(-90)">0.6</text>
<line x1="1362.36" y1="1303.62" x2="1342.56" y2="1303.62" class="tk"/>
<text class="al" transform="translate(1314.36 1303.62) rotate(-90)">0.8</text>
<line x1="1362.36" y1="1185.9" x2="1342.56" y2="1185.9" class="tk"/>
<text class="al" transform="translate(1314.36 1185.9) rotate(-90)">1.0</text>
<text x="1839.6" y="1949.04" class="al">variable</text>
<text class="al" transform="translate(1236.36 1480.2) rotate(-90)">PIP</text>
<g fill="#000"><circle cx="1397.71" cy="1774.5" r="7.45"/><circle cx="1402.15" cy="1774.5" r="7.45"/><circle cx="1406.59" cy="1774.5" r="7.45"/><circle cx="1411.03" cy="1774.5" r="7.45"/><circle cx="1415.48" cy="1774.5" r="7.45"/><circle cx="1419.92" cy="1774.5" r="7.45"/><circle cx="1424.36" cy="1774.5" r="7.45"/><circle cx="1428.8" cy="1774.5" r="7.45"/><circle cx="1433.24" cy="1774.5" r="7.45"/><circle cx="1437.68" cy="1774.5" r="7.45"/><circle cx="1442.12" cy="1774.5" r="7.45"/><circle cx="1446.56" cy="1774.5" r="7.45"/><circle cx="1451" cy="1774.5" r="7.45"/><circle cx="1455.45" cy="1774.5" r="7.45"/><circle cx="1459.89" cy="1774.5" r="7.45"/><circle cx="1464.33" cy="1774.5" r="7.45"/><circle cx="1468.77" cy="1774.5" r="7.45"/><circle cx="1473.21" cy="1774.5" r="7.45"/><circle cx="1477.65" cy="1774.5" r="7.45"/><circle cx="1482.09" cy="1774.5" r="7.45"/><circle cx="1486.53" cy="1774.5" r="7.45"/><circle cx="1490.97" cy="1774.5" r="7.45"/><circle cx="1495.42" cy="1774.5" r="7.45"/><circle cx="1499.86" cy="1774.5" r="7.45"/><circle cx="1504.3" cy="1774.5" r="7.45"/><circle cx="1508.74" cy="1774.5" r="7.45"/><circle cx="1513.18" cy="1774.5" r="7.45"/><circle cx="1517.62" cy="1774.5" r="7.45"/><circle cx="1522.06" cy="1774.5" r="7.45"/><circle cx="1526.5" cy="1774.5" r="7.45"/><circle cx="1530.94" cy="1774.5" r="7.45"/><circle cx="1535.39" cy="1774.5" r="7.45"/><circle cx="1539.83" cy="1774.5" r="7.45"/><circle cx="1544.27" cy="1774.5" r="7.45"/><circle cx="1548.71" cy="1774.5" r="7.45"/><circle cx="1553.15" cy="1774.5" r="7.45"/><circle cx="1557.59" cy="1774.5" r="7.45"/><circle cx="1562.03" cy="1774.5" r="7.45"/><circle cx="1566.47" cy="1774.5" r="7.45"/><circle cx="1570.91" cy="1774.5" r="7.45"/><circle cx="1575.35" cy="1774.5" r="7.45"/><circle cx="1579.8" cy="1774.5" r="7.45"/><circle cx="1584.24" cy="1774.5" r="7.45"/><circle cx="1588.68" cy="1774.5" r="7.45"/><circle cx="1593.12" cy="1774.5" r="7.45"/><circle cx="1597.56" cy="1774.5" r="7.45"/><circle cx="1602" cy="1774.5" r="7.45"/><circle cx="1606.44" cy="1774.5" r="7.45"/><circle cx="1610.88" cy="1774.5" r="7.45"/><circle cx="1615.32" cy="1774.5" r="7.45"/><circle cx="1619.77" cy="1774.5" r="7.45"/><circle cx="1624.21" cy="1774.5" r="7.45"/><circle cx="1628.65" cy="1774.5" r="7.45"/><circle cx="1633.09" cy="1774.5" r="7.45"/><circle cx="1637.53" cy="1774.5" r="7.45"/><circle cx="1641.97" cy="1774.5" r="7.45"/><circle cx="1646.41" cy="1774.5" r="7.45"/><circle cx="1650.85" cy="1774.5" r="7.45"/><circle cx="1655.29" cy="1774.5" r="7.45"/><circle cx="1659.74" cy="1774.5" r="7.45"/><circle cx="1664.18" cy="1774.5" r="7.45"/><circle cx="1668.62" cy="1774.5" r="7.45"/><circle cx="1673.06" cy="1774.5" r="7.45"/><circle cx="1677.5" cy="1774.5" r="7.45"/><circle cx="1681.94" cy="1774.5" r="7.45"/><circle cx="1686.38" cy="1774.5" r="7.45"/><circle cx="1690.82" cy="1774.5" r="7.45"/><circle cx="1695.26" cy="1774.5" r="7.45"/><circle cx="1699.71" cy="1774.5" r="7.45"/><circle cx="1704.15" cy="1774.5" r="7.45"/><circle cx="1708.59" cy="1774.5" r="7.45"/><circle cx="1713.03" cy="1774.5" r="7.45"/><circle cx="1717.47" cy="1774.5" r="7.45"/><circle cx="1721.91" cy="1774.5" r="7.45"/><circle cx="1726.35" cy="1774.5" r="7.45"/><circle cx="1730.79" cy="1774.5" r="7.45"/><circle cx="1735.23" cy="1774.5" r="7.45"/><circle cx="1739.68" cy="1774.5" r="7.45"/><circle cx="1744.12" cy="1774.5" r="7.45"/><circle cx="1748.56" cy="1774.5" r="7.45"/><circle cx="1753" cy="1774.5" r="7.45"/><circle cx="1757.44" cy="1774.5" r="7.45"/><circle cx="1761.88" cy="1774.5" r="7.45"/><circle cx="1766.32" cy="1774.5" r="7.45"/><circle cx="1770.76" cy="1774.5" r="7.45"/><circle cx="1775.2" cy="1774.5" r="7.45"/><circle cx="1779.65" cy="1774.5" r="7.45"/><circle cx="1784.09" cy="1774.5" r="7.45"/><circle cx="1788.53" cy="1774.5" r="7.45"/><circle cx="1792.97" cy="1774.5" r="7.45"/><circle cx="1797.41" cy="1774.5" r="7.45"/><circle cx="1801.85" cy="1774.5" r="7.45"/><circle cx="1806.29" cy="1774.5" r="7.45"/><circle cx="1810.73" cy="1774.5" r="7.45"/><circle cx="1815.17" cy="1771.55" r="7.45"/><circle cx="1819.62" cy="1774.5" r="7.45"/><circle cx="1824.06" cy="1774.5" r="7.45"/><circle cx="1828.5" cy="1774.5" r="7.45"/><circle cx="1832.94" cy="1774.5" r="7.45"/><circle cx="1837.38" cy="1187.67" r="7.45"/><circle cx="1841.82" cy="1774.5" r="7.45"/><circle cx="1846.26" cy="1774.5" r="7.45"/><circle cx="1850.7" cy="1774.5" r="7.45"/><circle cx="1855.14" cy="1774.5" r="7.45"/><circle cx="1859.58" cy="1774.5" r="7.45"/><circle cx="1864.03" cy="1774.5" r="7.45"/><circle cx="1868.47" cy="1774.5" r="7.45"/><circle cx="1872.91" cy="1774.5" r="7.45"/><circle cx="1877.35" cy="1774.5" r="7.45"/><circle cx="1881.79" cy="1774.5" r="7.45"/><circle cx="1886.23" cy="1774.5" r="7.45"/><circle cx="1890.67" cy="1774.5" r="7.45"/><circle cx="1895.11" cy="1774.5" r="7.45"/><circle cx="1899.55" cy="1774.5" r="7.45"/><circle cx="1904" cy="1185.9" r="7.45"/><circle cx="1908.44" cy="1774.5" r="7.45"/><circle cx="1912.88" cy="1774.5" r="7.45"/><circle cx="1917.32" cy="1774.5" r="7.45"/><circle cx="1921.76" cy="1774.5" r="7.45"/><circle cx="1926.2" cy="1774.5" r="7.45"/><circle cx="1930.64" cy="1774.5" r="7.45"/><circle cx="1935.08" cy="1774.5" r="7.45"/><circle cx="1939.52" cy="1185.9" r="7.45"/><circle cx="1943.97" cy="1774.5" r="7.45"/><circle cx="1948.41" cy="1774.5" r="7.45"/><circle cx="1952.85" cy="1774.5" r="7.45"/><circle cx="1957.29" cy="1774.5" r="7.45"/><circle cx="1961.73" cy="1774.5" r="7.45"/><circle cx="1966.17" cy="1774.5" r="7.45"/><circle cx="1970.61" cy="1774.5" r="7.45"/><circle cx="1975.05" cy="1774.5" r="7.45"/><circle cx="1979.49" cy="1774.5" r="7.45"/><circle cx="1983.94" cy="1774.5" r="7.45"/><circle cx="1988.38" cy="1774.5" r="7.45"/><circle cx="1992.82" cy="1774.5" r="7.45"/><circle cx="1997.26" cy="1774.5" r="7.45"/><circle cx="2001.7" cy="1774.5" r="7.45"/><circle cx="2006.14" cy="1480.2" r="7.45"/><circle cx="2010.58" cy="1774.5" r="7.45"/><circle cx="2015.02" cy="1774.5" r="7.45"/><circle cx="2019.46" cy="1774.5" r="7.45"/><circle cx="2023.91" cy="1774.5" r="7.45"/><circle cx="2028.35" cy="1774.5" r="7.45"/><circle cx="2032.79" cy="1774.5" r="7.45"/><circle cx="2037.23" cy="1774.5" r="7.45"/><circle cx="2041.67" cy="1774.5" r="7.45"/><circle cx="2046.11" cy="1774.5" r="7.45"/><circle cx="2050.55" cy="1185.9" r="7.45"/><circle cx="2054.99" cy="1774.5" r="7.45"/><circle cx="2059.43" cy="1480.2" r="7.45"/><circle cx="2063.88" cy="1774.5" r="7.45"/><circle cx="2068.32" cy="1578.08" r="7.45"/><circle cx="2072.76" cy="1774.5" r="7.45"/><circle cx="2077.2" cy="1774.5" r="7.45"/><circle cx="2081.64" cy="1578.08" r="7.45"/><circle cx="2086.08" cy="1774.5" r="7.45"/><circle cx="2090.52" cy="1774.5" r="7.45"/><circle cx="2094.96" cy="1185.9" r="7.45"/><circle cx="2099.4" cy="1578.08" r="7.45"/><circle cx="2103.85" cy="1774.5" r="7.45"/><circle cx="2108.29" cy="1774.5" r="7.45"/><circle cx="2112.73" cy="1774.5" r="7.45"/><circle cx="2117.17" cy="1774.5" r="7.45"/><circle cx="2121.61" cy="1774.5" r="7.45"/><circle cx="2126.05" cy="1774.5" r="7.45"/><circle cx="2130.49" cy="1774.5" r="7.45"/><circle cx="2134.93" cy="1774.5" r="7.45"/><circle cx="2139.37" cy="1774.5" r="7.45"/><circle cx="2143.81" cy="1774.5" r="7.45"/><circle cx="2148.26" cy="1774.5" r="7.45"/><circle cx="2152.7" cy="1774.5" r="7.45"/><circle cx="2157.14" cy="1774.5" r="7.45"/><circle cx="2161.58" cy="1774.5" r="7.45"/><circle cx="2166.02" cy="1774.5" r="7.45"/><circle cx="2170.46" cy="1774.5" r="7.45"/><circle cx="2174.9" cy="1774.5" r="7.45"/><circle cx="2179.34" cy="1774.5" r="7.45"/><circle cx="2183.78" cy="1774.5" r="7.45"/><circle cx="2188.23" cy="1774.5" r="7.45"/><circle cx="2192.67" cy="1774.5" r="7.45"/><circle cx="2197.11" cy="1774.5" r="7.45"/><circle cx="2201.55" cy="1774.5" r="7.45"/><circle cx="2205.99" cy="1774.5" r="7.45"/><circle cx="2210.43" cy="1774.5" r="7.45"/><circle cx="2214.87" cy="1185.9" r="7.45"/><circle cx="2219.31" cy="1774.5" r="7.45"/><circle cx="2223.75" cy="1774.5" r="7.45"/><circle cx="2228.2" cy="1774.5" r="7.45"/><circle cx="2232.64" cy="1774.5" r="7.45"/><circle cx="2237.08" cy="1774.5" r="7.45"/><circle cx="2241.52" cy="1774.5" r="7.45"/><circle cx="2245.96" cy="1774.5" r="7.45"/><circle cx="2250.4" cy="1774.5" r="7.45"/><circle cx="2254.84" cy="1774.5" r="7.45"/><circle cx="2259.28" cy="1774.5" r="7.45"/><circle cx="2263.72" cy="1774.5" r="7.45"/><circle cx="2268.17" cy="1774.5" r="7.45"/><circle cx="2272.61" cy="1774.5" r="7.45"/><circle cx="2277.05" cy="1774.5" r="7.45"/><circle cx="2281.49" cy="1774.5" r="7.45"/></g>
<circle cx="1904" cy="1185.9" r="11.25" fill="none" stroke="#1C6FE6" stroke-width="7.6"/>
<circle cx="1837.38" cy="1187.67" r="11.25" fill="none" stroke="#147A0A" stroke-width="7.6"/>
<circle cx="2050.55" cy="1185.9" r="11.25" fill="none" stroke="#562B8C" stroke-width="7.6"/>
<circle cx="2068.32" cy="1578.08" r="11.25" fill="none" stroke="#FC6A0C" stroke-width="7.6"/>
<circle cx="2081.64" cy="1578.08" r="11.25" fill="none" stroke="#FC6A0C" stroke-width="7.6"/>
<circle cx="2099.4" cy="1578.08" r="11.25" fill="none" stroke="#FC6A0C" stroke-width="7.6"/>
<circle cx="2214.87" cy="1185.9" r="11.25" fill="none" stroke="#FDD10A" stroke-width="7.6"/>
<circle cx="2094.96" cy="1185.9" r="11.25" fill="none" stroke="#6FB1EB" stroke-width="7.6"/>
<circle cx="1939.52" cy="1185.9" r="11.25" fill="none" stroke="#F88A88" stroke-width="7.6"/>
<circle cx="2006.14" cy="1480.2" r="11.25" fill="none" stroke="#80EA7C" stroke-width="7.6"/>
<circle cx="2059.43" cy="1480.2" r="11.25" fill="none" stroke="#80EA7C" stroke-width="7.6"/>
<g fill="#D83D5B"><circle cx="1397.71" cy="1774.5" r="7.45"/><circle cx="1615.32" cy="1774.5" r="7.45"/><circle cx="1837.38" cy="1187.67" r="7.45"/><circle cx="2059.43" cy="1480.2" r="7.45"/></g>
<text x="639.6" y="2096" class="tt">trunc.SVD out-sample LD</text>
<rect x="162.36" y="2162.36" width="954.48" height="635.68" class="bx"/>
<line x1="193.27" y1="2798.04" x2="193.27" y2="2817.84" class="tk"/>
<text x="193.27" y="2870.04" class="al">0</text>
<line x1="415.32" y1="2798.04" x2="415.32" y2="2817.84" class="tk"/>
<text x="415.32" y="2870.04" class="al">50</text>
<line x1="637.38" y1="2798.04" x2="637.38" y2="2817.84" class="tk"/>
<text x="637.38" y="2870.04" class="al">100</text>
<line x1="859.43" y1="2798.04" x2="859.43" y2="2817.84" class="tk"/>
<text x="859.43" y="2870.04" class="al">150</text>
<line x1="1081.49" y1="2798.04" x2="1081.49" y2="2817.84" class="tk"/>
<text x="1081.49" y="2870.04" class="al">200</text>
<line x1="162.36" y1="2774.5" x2="142.56" y2="2774.5" class="tk"/>
<text class="al" transform="translate(114.36 2774.5) rotate(-90)">0.0</text>
<line x1="162.36" y1="2656.78" x2="142.56" y2="2656.78" class="tk"/>
<text class="al" transform="translate(114.36 2656.78) rotate(-90)">0.2</text>
<line x1="162.36" y1="2539.06" x2="142.56" y2="2539.06" class="tk"/>
<text class="al" transform="translate(114.36 2539.06) rotate(-90)">0.4</text>
<line x1="162.36" y1="2421.34" x2="142.56" y2="2421.34" class="tk"/>
<text class="al" transform="translate(114.36 2421.34) rotate(-90)">0.6</text>
<line x1="162.36" y1="2303.62" x2="142.56" y2="2303.62" class="tk"/>
<text class="al" transform="translate(114.36 2303.62) rotate(-90)">0.8</text>
<line x1="162.36" y1="2185.9" x2="142.56" y2="2185.9" class="tk"/>
<text class="al" transform="translate(114.36 2185.9) rotate(-90)">1.0</text>
<text x="639.6" y="2949.04" class="al">variable</text>
<text class="al" transform="translate(36.36 2480.2) rotate(-90)">PIP</text>
<g fill="#000"><circle cx="197.71" cy="2520.58" r="7.45"/><circle cx="202.15" cy="2730.71" r="7.45"/><circle cx="206.59" cy="2728.7" r="7.45"/><circle cx="211.03" cy="2774.5" r="7.45"/><circle cx="215.48" cy="2774.5" r="7.45"/><circle cx="219.92" cy="2774.5" r="7.45"/><circle cx="224.36" cy="2774.5" r="7.45"/><circle cx="228.8" cy="2774.5" r="7.45"/><circle cx="233.24" cy="2774.5" r="7.45"/><circle cx="237.68" cy="2774.5" r="7.45"/><circle cx="242.12" cy="2774.5" r="7.45"/><circle cx="246.56" cy="2774.5" r="7.45"/><circle cx="251" cy="2774.5" r="7.45"/><circle cx="255.45" cy="2774.5" r="7.45"/><circle cx="259.89" cy="2774.5" r="7.45"/><circle cx="264.33" cy="2774.5" r="7.45"/><circle cx="268.77" cy="2774.5" r="7.45"/><circle cx="273.21" cy="2774.5" r="7.45"/><circle cx="277.65" cy="2719.11" r="7.45"/><circle cx="282.09" cy="2774.5" r="7.45"/><circle cx="286.53" cy="2774.5" r="7.45"/><circle cx="290.97" cy="2774.5" r="7.45"/><circle cx="295.42" cy="2774.5" r="7.45"/><circle cx="299.86" cy="2774.5" r="7.45"/><circle cx="304.3" cy="2774.5" r="7.45"/><circle cx="308.74" cy="2770.96" r="7.45"/><circle cx="313.18" cy="2774.5" r="7.45"/><circle cx="317.62" cy="2774.5" r="7.45"/><circle cx="322.06" cy="2774.5" r="7.45"/><circle cx="326.5" cy="2774.5" r="7.45"/><circle cx="330.94" cy="2774.5" r="7.45"/><circle cx="335.39" cy="2766.37" r="7.45"/><circle cx="339.83" cy="2774.5" r="7.45"/><circle cx="344.27" cy="2774.5" r="7.45"/><circle cx="348.71" cy="2774.5" r="7.45"/><circle cx="353.15" cy="2774.5" r="7.45"/><circle cx="357.59" cy="2774.5" r="7.45"/><circle cx="362.03" cy="2774.5" r="7.45"/><circle cx="366.47" cy="2729.29" r="7.45"/><circle cx="370.91" cy="2774.5" r="7.45"/><circle cx="375.35" cy="2774.5" r="7.45"/><circle cx="379.8" cy="2774.5" r="7.45"/><circle cx="384.24" cy="2774.5" r="7.45"/><circle cx="388.68" cy="2774.5" r="7.45"/><circle cx="393.12" cy="2774.5" r="7.45"/><circle cx="397.56" cy="2774.5" r="7.45"/><circle cx="402" cy="2774.5" r="7.45"/><circle cx="406.44" cy="2774.5" r="7.45"/><circle cx="410.88" cy="2774.5" r="7.45"/><circle cx="415.32" cy="2774.5" r="7.45"/><circle cx="419.77" cy="2774.5" r="7.45"/><circle cx="424.21" cy="2774.5" r="7.45"/><circle cx="428.65" cy="2765.08" r="7.45"/><circle cx="433.09" cy="2774.5" r="7.45"/><circle cx="437.53" cy="2774.5" r="7.45"/><circle cx="441.97" cy="2774.5" r="7.45"/><circle cx="446.41" cy="2774.5" r="7.45"/><circle cx="450.85" cy="2774.5" r="7.45"/><circle cx="455.29" cy="2774.5" r="7.45"/><circle cx="459.74" cy="2774.5" r="7.45"/><circle cx="464.18" cy="2774.5" r="7.45"/><circle cx="468.62" cy="2774.5" r="7.45"/><circle cx="473.06" cy="2771.55" r="7.45"/><circle cx="477.5" cy="2774.5" r="7.45"/><circle cx="481.94" cy="2774.5" r="7.45"/><circle cx="486.38" cy="2774.5" r="7.45"/><circle cx="490.82" cy="2754.78" r="7.45"/><circle cx="495.26" cy="2774.5" r="7.45"/><circle cx="499.71" cy="2774.5" r="7.45"/><circle cx="504.15" cy="2774.5" r="7.45"/><circle cx="508.59" cy="2769.79" r="7.45"/><circle cx="513.03" cy="2774.5" r="7.45"/><circle cx="517.47" cy="2717.99" r="7.45"/><circle cx="521.91" cy="2772.14" r="7.45"/><circle cx="526.35" cy="2717.99" r="7.45"/><circle cx="530.79" cy="2717.99" r="7.45"/><circle cx="535.23" cy="2774.5" r="7.45"/><circle cx="539.68" cy="2680.62" r="7.45"/><circle cx="544.12" cy="2774.5" r="7.45"/><circle cx="548.56" cy="2774.5" r="7.45"/><circle cx="553" cy="2774.5" r="7.45"/><circle cx="557.44" cy="2717.99" r="7.45"/><circle cx="561.88" cy="2717.99" r="7.45"/><circle cx="566.32" cy="2717.99" r="7.45"/><circle cx="570.76" cy="2743.95" r="7.45"/><circle cx="575.2" cy="2774.5" r="7.45"/><circle cx="579.65" cy="2743.95" r="7.45"/><circle cx="584.09" cy="2774.5" r="7.45"/><circle cx="588.53" cy="2743.95" r="7.45"/><circle cx="592.97" cy="2774.5" r="7.45"/><circle cx="597.41" cy="2774.5" r="7.45"/><circle cx="601.85" cy="2774.5" r="7.45"/><circle cx="606.29" cy="2774.5" r="7.45"/><circle cx="610.73" cy="2774.5" r="7.45"/><circle cx="615.17" cy="2774.5" r="7.45"/><circle cx="619.62" cy="2774.5" r="7.45"/><circle cx="624.06" cy="2774.5" r="7.45"/><circle cx="628.5" cy="2718.58" r="7.45"/><circle cx="632.94" cy="2774.5" r="7.45"/><circle cx="637.38" cy="2774.5" r="7.45"/><circle cx="641.82" cy="2774.5" r="7.45"/><circle cx="646.26" cy="2774.5" r="7.45"/><circle cx="650.7" cy="2774.5" r="7.45"/><circle cx="655.14" cy="2774.5" r="7.45"/><circle cx="659.58" cy="2771.55" r="7.45"/><circle cx="664.03" cy="2774.5" r="7.45"/><circle cx="668.47" cy="2774.5" r="7.45"/><circle cx="672.91" cy="2772.14" r="7.45"/><circle cx="677.35" cy="2774.5" r="7.45"/><circle cx="681.79" cy="2774.5" r="7.45"/><circle cx="686.23" cy="2774.5" r="7.45"/><circle cx="690.67" cy="2774.5" r="7.45"/><circle cx="695.11" cy="2774.5" r="7.45"/><circle cx="699.55" cy="2774.5" r="7.45"/><circle cx="704" cy="2774.5" r="7.45"/><circle cx="708.44" cy="2774.5" r="7.45"/><circle cx="712.88" cy="2774.5" r="7.45"/><circle cx="717.32" cy="2774.5" r="7.45"/><circle cx="721.76" cy="2774.5" r="7.45"/><circle cx="726.2" cy="2774.5" r="7.45"/><circle cx="730.64" cy="2774.5" r="7.45"/><circle cx="735.08" cy="2774.5" r="7.45"/><circle cx="739.52" cy="2774.5" r="7.45"/><circle cx="743.97" cy="2774.5" r="7.45"/><circle cx="748.41" cy="2774.5" r="7.45"/><circle cx="752.85" cy="2774.5" r="7.45"/><circle cx="757.29" cy="2774.5" r="7.45"/><circle cx="761.73" cy="2774.5" r="7.45"/><circle cx="766.17" cy="2774.5" r="7.45"/><circle cx="770.61" cy="2774.5" r="7.45"/><circle cx="775.05" cy="2774.5" r="7.45"/><circle cx="779.49" cy="2774.5" r="7.45"/><circle cx="783.94" cy="2774.5" r="7.45"/><circle cx="788.38" cy="2774.5" r="7.45"/><circle cx="792.82" cy="2774.5" r="7.45"/><circle cx="797.26" cy="2774.5" r="7.45"/><circle cx="801.7" cy="2774.5" r="7.45"/><circle cx="806.14" cy="2774.5" r="7.45"/><circle cx="810.58" cy="2774.5" r="7.45"/><circle cx="815.02" cy="2774.5" r="7.45"/><circle cx="819.46" cy="2774.5" r="7.45"/><circle cx="823.91" cy="2774.5" r="7.45"/><circle cx="828.35" cy="2774.5" r="7.45"/><circle cx="832.79" cy="2774.5" r="7.45"/><circle cx="837.23" cy="2774.5" r="7.45"/><circle cx="841.67" cy="2774.5" r="7.45"/><circle cx="846.11" cy="2774.5" r="7.45"/><circle cx="850.55" cy="2671.79" r="7.45"/><circle cx="854.99" cy="2774.5" r="7.45"/><circle cx="859.43" cy="2774.5" r="7.45"/><circle cx="863.88" cy="2774.5" r="7.45"/><circle cx="868.32" cy="2671.79" r="7.45"/><circle cx="872.76" cy="2774.5" r="7.45"/><circle cx="877.2" cy="2771.55" r="7.45"/><circle cx="881.64" cy="2671.79" r="7.45"/><circle cx="886.08" cy="2774.5" r="7.45"/><circle cx="890.52" cy="2774.5" r="7.45"/><circle cx="894.96" cy="2671.79" r="7.45"/><circle cx="899.4" cy="2671.79" r="7.45"/><circle cx="903.85" cy="2774.5" r="7.45"/><circle cx="908.29" cy="2774.5" r="7.45"/><circle cx="912.73" cy="2774.5" r="7.45"/><circle cx="917.17" cy="2774.5" r="7.45"/><circle cx="921.61" cy="2774.5" r="7.45"/><circle cx="926.05" cy="2774.5" r="7.45"/><circle cx="930.49" cy="2774.5" r="7.45"/><circle cx="934.93" cy="2774.5" r="7.45"/><circle cx="939.37" cy="2774.5" r="7.45"/><circle cx="943.81" cy="2774.5" r="7.45"/><circle cx="948.26" cy="2774.5" r="7.45"/><circle cx="952.7" cy="2774.5" r="7.45"/><circle cx="957.14" cy="2774.5" r="7.45"/><circle cx="961.58" cy="2774.5" r="7.45"/><circle cx="966.02" cy="2774.5" r="7.45"/><circle cx="970.46" cy="2767.79" r="7.45"/><circle cx="974.9" cy="2774.5" r="7.45"/><circle cx="979.34" cy="2774.5" r="7.45"/><circle cx="983.78" cy="2774.5" r="7.45"/><circle cx="988.23" cy="2774.5" r="7.45"/><circle cx="992.67" cy="2767.79" r="7.45"/><circle cx="997.11" cy="2774.5" r="7.45"/><circle cx="1001.55" cy="2774.5" r="7.45"/><circle cx="1005.99" cy="2774.5" r="7.45"/><circle cx="1010.43" cy="2767.79" r="7.45"/><circle cx="1014.87" cy="2185.9" r="7.45"/><circle cx="1019.31" cy="2774.5" r="7.45"/><circle cx="1023.75" cy="2774.5" r="7.45"/><circle cx="1028.2" cy="2767.79" r="7.45"/><circle cx="1032.64" cy="2774.5" r="7.45"/><circle cx="1037.08" cy="2774.5" r="7.45"/><circle cx="1041.52" cy="2767.79" r="7.45"/><circle cx="1045.96" cy="2774.5" r="7.45"/><circle cx="1050.4" cy="2774.5" r="7.45"/><circle cx="1054.84" cy="2774.5" r="7.45"/><circle cx="1059.28" cy="2774.5" r="7.45"/><circle cx="1063.72" cy="2774.5" r="7.45"/><circle cx="1068.17" cy="2774.5" r="7.45"/><circle cx="1072.61" cy="2767.79" r="7.45"/><circle cx="1077.05" cy="2767.79" r="7.45"/><circle cx="1081.49" cy="2767.79" r="7.45"/></g>
<circle cx="1014.87" cy="2185.9" r="11.25" fill="none" stroke="#1C6FE6" stroke-width="7.6"/>
<circle cx="517.47" cy="2717.99" r="11.25" fill="none" stroke="#147A0A" stroke-width="7.6"/>
<circle cx="526.35" cy="2717.99" r="11.25" fill="none" stroke="#147A0A" stroke-width="7.6"/>
<circle cx="530.79" cy="2717.99" r="11.25" fill="none" stroke="#147A0A" stroke-width="7.6"/>
<circle cx="539.68" cy="2680.62" r="11.25" fill="none" stroke="#147A0A" stroke-width="7.6"/>
<circle cx="557.44" cy="2717.99" r="11.25" fill="none" stroke="#147A0A" stroke-width="7.6"/>
<circle cx="561.88" cy="2717.99" r="11.25" fill="none" stroke="#147A0A" stroke-width="7.6"/>
<circle cx="566.32" cy="2717.99" r="11.25" fill="none" stroke="#147A0A" stroke-width="7.6"/>
<circle cx="570.76" cy="2743.95" r="11.25" fill="none" stroke="#147A0A" stroke-width="7.6"/>
<circle cx="579.65" cy="2743.95" r="11.25" fill="none" stroke="#147A0A" stroke-width="7.6"/>
<circle cx="588.53" cy="2743.95" r="11.25" fill="none" stroke="#147A0A" stroke-width="7.6"/>
<circle cx="628.5" cy="2718.58" r="11.25" fill="none" stroke="#147A0A" stroke-width="7.6"/>
<circle cx="850.55" cy="2671.79" r="11.25" fill="none" stroke="#562B8C" stroke-width="7.6"/>
<circle cx="868.32" cy="2671.79" r="11.25" fill="none" stroke="#562B8C" stroke-width="7.6"/>
<circle cx="881.64" cy="2671.79" r="11.25" fill="none" stroke="#562B8C" stroke-width="7.6"/>
<circle cx="894.96" cy="2671.79" r="11.25" fill="none" stroke="#562B8C" stroke-width="7.6"/>
<circle cx="899.4" cy="2671.79" r="11.25" fill="none" stroke="#562B8C" stroke-width="7.6"/>
<circle cx="970.46" cy="2767.79" r="11.25" fill="none" stroke="#562B8C" stroke-width="7.6"/>
<circle cx="992.67" cy="2767.79" r="11.25" fill="none" stroke="#562B8C" stroke-width="7.6"/>
<circle cx="1010.43" cy="2767.79" r="11.25" fill="none" stroke="#562B8C" stroke-width="7.6"/>
<circle cx="1028.2" cy="2767.79" r="11.25" fill="none" stroke="#562B8C" stroke-width="7.6"/>
<circle cx="1041.52" cy="2767.79" r="11.25" fill="none" stroke="#562B8C" stroke-width="7.6"/>
<circle cx="1072.61" cy="2767.79" r="11.25" fill="none" stroke="#562B8C" stroke-width="7.6"/>
<circle cx="1077.05" cy="2767.79" r="11.25" fill="none" stroke="#562B8C" stroke-width="7.6"/>
<circle cx="1081.49" cy="2767.79" r="11.25" fill="none" stroke="#562B8C" stroke-width="7.6"/>
<g fill="#D83D5B"><circle cx="197.71" cy="2520.58" r="7.45"/><circle cx="415.32" cy="2774.5" r="7.45"/><circle cx="637.38" cy="2774.5" r="7.45"/><circle cx="859.43" cy="2774.5" r="7.45"/></g>
<text x="1839.6" y="2096" class="tt">reg+trunc.SVD out-sample LD</text>
<rect x="1362.36" y="2162.36" width="954.48" height="635.68" class="bx"/>
<line x1="1393.27" y1="2798.04" x2="1393.27" y2="2817.84" class="tk"/>
<text x="1393.27" y="2870.04" class="al">0</text>
<line x1="1615.32" y1="2798.04" x2="1615.32" y2="2817.84" class="tk"/>
<text x="1615.32" y="2870.04" class="al">50</text>
<line x1="1837.38" y1="2798.04" x2="1837.38" y2="2817.84" class="tk"/>
<text x="1837.38" y="2870.04" class="al">100</text>
<line x1="2059.43" y1="2798.04" x2="2059.43" y2="2817.84" class="tk"/>
<text x="2059.43" y="2870.04" class="al">150</text>
<line x1="2281.49" y1="2798.04" x2="2281.49" y2="2817.84" class="tk"/>
<text x="2281.49" y="2870.04" class="al">200</text>
<line x1="1362.36" y1="2784.75" x2="1342.56" y2="2784.75" class="tk"/>
<text class="al" transform="translate(1314.36 2784.75) rotate(-90)">0.0</text>
<line x1="1362.36" y1="2664.98" x2="1342.56" y2="2664.98" class="tk"/>
<text class="al" transform="translate(1314.36 2664.98) rotate(-90)">0.2</text>
<line x1="1362.36" y1="2545.21" x2="1342.56" y2="2545.21" class="tk"/>
<text class="al" transform="translate(1314.36 2545.21) rotate(-90)">0.4</text>
<line x1="1362.36" y1="2425.44" x2="1342.56" y2="2425.44" class="tk"/>
<text class="al" transform="translate(1314.36 2425.44) rotate(-90)">0.6</text>
<line x1="1362.36" y1="2305.67" x2="1342.56" y2="2305.67" class="tk"/>
<text class="al" transform="translate(1314.36 2305.67) rotate(-90)">0.8</text>
<line x1="1362.36" y1="2185.9" x2="1342.56" y2="2185.9" class="tk"/>
<text class="al" transform="translate(1314.36 2185.9) rotate(-90)">1.0</text>
<text x="1839.6" y="2949.04" class="al">variable</text>
<text class="al" transform="translate(1236.36 2480.2) rotate(-90)">PIP</text>
<g fill="#000"><circle cx="1397.71" cy="2217.88" r="7.45"/><circle cx="1402.15" cy="2762.59" r="7.45"/><circle cx="1406.59" cy="2759" r="7.45"/><circle cx="1411.03" cy="2773.97" r="7.45"/><circle cx="1415.48" cy="2769.18" r="7.45"/><circle cx="1419.92" cy="2771.57" r="7.45"/><circle cx="1424.36" cy="2767.38" r="7.45"/><circle cx="1428.8" cy="2771.57" r="7.45"/><circle cx="1433.24" cy="2766.78" r="7.45"/><circle cx="1437.68" cy="2767.98" r="7.45"/><circle cx="1442.12" cy="2773.97" r="7.45"/><circle cx="1446.56" cy="2766.78" r="7.45"/><circle cx="1451" cy="2767.38" r="7.45"/><circle cx="1455.45" cy="2770.38" r="7.45"/><circle cx="1459.89" cy="2767.38" r="7.45"/><circle cx="1464.33" cy="2773.97" r="7.45"/><circle cx="1468.77" cy="2773.37" r="7.45"/><circle cx="1473.21" cy="2771.57" r="7.45"/><circle cx="1477.65" cy="2752.29" r="7.45"/><circle cx="1482.09" cy="2770.38" r="7.45"/><circle cx="1486.53" cy="2773.97" r="7.45"/><circle cx="1490.97" cy="2770.38" r="7.45"/><circle cx="1495.42" cy="2766.78" r="7.45"/><circle cx="1499.86" cy="2770.38" r="7.45"/><circle cx="1504.3" cy="2769.18" r="7.45"/><circle cx="1508.74" cy="2773.97" r="7.45"/><circle cx="1513.18" cy="2769.18" r="7.45"/><circle cx="1517.62" cy="2771.57" r="7.45"/><circle cx="1522.06" cy="2773.97" r="7.45"/><circle cx="1526.5" cy="2770.38" r="7.45"/><circle cx="1530.94" cy="2773.97" r="7.45"/><circle cx="1535.39" cy="2770.98" r="7.45"/><circle cx="1539.83" cy="2771.57" r="7.45"/><circle cx="1544.27" cy="2773.97" r="7.45"/><circle cx="1548.71" cy="2770.38" r="7.45"/><circle cx="1553.15" cy="2771.57" r="7.45"/><circle cx="1557.59" cy="2773.97" r="7.45"/><circle cx="1562.03" cy="2770.38" r="7.45"/><circle cx="1566.47" cy="2759.12" r="7.45"/><circle cx="1570.91" cy="2771.57" r="7.45"/><circle cx="1575.35" cy="2769.78" r="7.45"/><circle cx="1579.8" cy="2772.77" r="7.45"/><circle cx="1584.24" cy="2771.57" r="7.45"/><circle cx="1588.68" cy="2769.78" r="7.45"/><circle cx="1593.12" cy="2771.57" r="7.45"/><circle cx="1597.56" cy="2770.38" r="7.45"/><circle cx="1602" cy="2773.97" r="7.45"/><circle cx="1606.44" cy="2770.38" r="7.45"/><circle cx="1610.88" cy="2767.38" r="7.45"/><circle cx="1615.32" cy="2766.48" r="7.45"/><circle cx="1619.77" cy="2773.97" r="7.45"/><circle cx="1624.21" cy="2766.78" r="7.45"/><circle cx="1628.65" cy="2770.38" r="7.45"/><circle cx="1633.09" cy="2766.78" r="7.45"/><circle cx="1637.53" cy="2773.97" r="7.45"/><circle cx="1641.97" cy="2769.18" r="7.45"/><circle cx="1646.41" cy="2766.78" r="7.45"/><circle cx="1650.85" cy="2770.38" r="7.45"/><circle cx="1655.29" cy="2770.38" r="7.45"/><circle cx="1659.74" cy="2773.97" r="7.45"/><circle cx="1664.18" cy="2767.38" r="7.45"/><circle cx="1668.62" cy="2770.38" r="7.45"/><circle cx="1673.06" cy="2772.17" r="7.45"/><circle cx="1677.5" cy="2771.57" r="7.45"/><circle cx="1681.94" cy="2773.97" r="7.45"/><circle cx="1686.38" cy="2771.57" r="7.45"/><circle cx="1690.82" cy="2759.6" r="7.45"/><circle cx="1695.26" cy="2772.17" r="7.45"/><circle cx="1699.71" cy="2773.97" r="7.45"/><circle cx="1704.15" cy="2770.38" r="7.45"/><circle cx="1708.59" cy="2770.38" r="7.45"/><circle cx="1713.03" cy="2773.97" r="7.45"/><circle cx="1717.47" cy="2715.64" r="7.45"/><circle cx="1721.91" cy="2742.23" r="7.45"/><circle cx="1726.35" cy="2708.1" r="7.45"/><circle cx="1730.79" cy="2706.9" r="7.45"/><circle cx="1735.23" cy="2772.17" r="7.45"/><circle cx="1739.68" cy="2686.12" r="7.45"/><circle cx="1744.12" cy="2773.97" r="7.45"/><circle cx="1748.56" cy="2774.57" r="7.45"/><circle cx="1753" cy="2773.97" r="7.45"/><circle cx="1757.44" cy="2710.49" r="7.45"/><circle cx="1761.88" cy="2708.93" r="7.45"/><circle cx="1766.32" cy="2718.28" r="7.45"/><circle cx="1770.76" cy="2741.69" r="7.45"/><circle cx="1775.2" cy="2773.97" r="7.45"/><circle cx="1779.65" cy="2752.17" r="7.45"/><circle cx="1784.09" cy="2773.37" r="7.45"/><circle cx="1788.53" cy="2750.37" r="7.45"/><circle cx="1792.97" cy="2773.97" r="7.45"/><circle cx="1797.41" cy="2740.01" r="7.45"/><circle cx="1801.85" cy="2773.97" r="7.45"/><circle cx="1806.29" cy="2770.38" r="7.45"/><circle cx="1810.73" cy="2773.97" r="7.45"/><circle cx="1815.17" cy="2766.18" r="7.45"/><circle cx="1819.62" cy="2773.97" r="7.45"/><circle cx="1824.06" cy="2769.18" r="7.45"/><circle cx="1828.5" cy="2720.91" r="7.45"/><circle cx="1832.94" cy="2767.38" r="7.45"/><circle cx="1837.38" cy="2768.88" r="7.45"/><circle cx="1841.82" cy="2740.07" r="7.45"/><circle cx="1846.26" cy="2773.37" r="7.45"/><circle cx="1850.7" cy="2773.07" r="7.45"/><circle cx="1855.14" cy="2773.97" r="7.45"/><circle cx="1859.58" cy="2756.3" r="7.45"/><circle cx="1864.03" cy="2773.97" r="7.45"/><circle cx="1868.47" cy="2773.97" r="7.45"/><circle cx="1872.91" cy="2771.57" r="7.45"/><circle cx="1877.35" cy="2760.08" r="7.45"/><circle cx="1881.79" cy="2773.97" r="7.45"/><circle cx="1886.23" cy="2773.37" r="7.45"/><circle cx="1890.67" cy="2773.97" r="7.45"/><circle cx="1895.11" cy="2770.38" r="7.45"/><circle cx="1899.55" cy="2764.69" r="7.45"/><circle cx="1904" cy="2760.5" r="7.45"/><circle cx="1908.44" cy="2769.18" r="7.45"/><circle cx="1912.88" cy="2770.38" r="7.45"/><circle cx="1917.32" cy="2767.38" r="7.45"/><circle cx="1921.76" cy="2773.97" r="7.45"/><circle cx="1926.2" cy="2769.18" r="7.45"/><circle cx="1930.64" cy="2773.37" r="7.45"/><circle cx="1935.08" cy="2762.83" r="7.45"/><circle cx="1939.52" cy="2772.77" r="7.45"/><circle cx="1943.97" cy="2763.79" r="7.45"/><circle cx="1948.41" cy="2769.18" r="7.45"/><circle cx="1952.85" cy="2770.38" r="7.45"/><circle cx="1957.29" cy="2765.59" r="7.45"/><circle cx="1961.73" cy="2772.77" r="7.45"/><circle cx="1966.17" cy="2765.59" r="7.45"/><circle cx="1970.61" cy="2771.57" r="7.45"/><circle cx="1975.05" cy="2769.18" r="7.45"/><circle cx="1979.49" cy="2766.78" r="7.45"/><circle cx="1983.94" cy="2770.38" r="7.45"/><circle cx="1988.38" cy="2773.37" r="7.45"/><circle cx="1992.82" cy="2773.37" r="7.45"/><circle cx="1997.26" cy="2771.57" r="7.45"/><circle cx="2001.7" cy="2773.37" r="7.45"/><circle cx="2006.14" cy="2757.68" r="7.45"/><circle cx="2010.58" cy="2773.37" r="7.45"/><circle cx="2015.02" cy="2770.38" r="7.45"/><circle cx="2019.46" cy="2767.38" r="7.45"/><circle cx="2023.91" cy="2773.97" r="7.45"/><circle cx="2028.35" cy="2773.97" r="7.45"/><circle cx="2032.79" cy="2771.57" r="7.45"/><circle cx="2037.23" cy="2769.3" r="7.45"/><circle cx="2041.67" cy="2773.37" r="7.45"/><circle cx="2046.11" cy="2765.59" r="7.45"/><circle cx="2050.55" cy="2631.32" r="7.45"/><circle cx="2054.99" cy="2770.38" r="7.45"/><circle cx="2059.43" cy="2757.68" r="7.45"/><circle cx="2063.88" cy="2772.77" r="7.45"/><circle cx="2068.32" cy="2631.32" r="7.45"/><circle cx="2072.76" cy="2771.57" r="7.45"/><circle cx="2077.2" cy="2770.38" r="7.45"/><circle cx="2081.64" cy="2631.32" r="7.45"/><circle cx="2086.08" cy="2770.38" r="7.45"/><circle cx="2090.52" cy="2767.5" r="7.45"/><circle cx="2094.96" cy="2631.32" r="7.45"/><circle cx="2099.4" cy="2631.32" r="7.45"/><circle cx="2103.85" cy="2769.3" r="7.45"/><circle cx="2108.29" cy="2770.38" r="7.45"/><circle cx="2112.73" cy="2772.77" r="7.45"/><circle cx="2117.17" cy="2764.21" r="7.45"/><circle cx="2121.61" cy="2770.38" r="7.45"/><circle cx="2126.05" cy="2773.37" r="7.45"/><circle cx="2130.49" cy="2770.38" r="7.45"/><circle cx="2134.93" cy="2769.3" r="7.45"/><circle cx="2139.37" cy="2771.57" r="7.45"/><circle cx="2143.81" cy="2773.37" r="7.45"/><circle cx="2148.26" cy="2771.21" r="7.45"/><circle cx="2152.7" cy="2771.57" r="7.45"/><circle cx="2157.14" cy="2736.18" r="7.45"/><circle cx="2161.58" cy="2736.18" r="7.45"/><circle cx="2166.02" cy="2736.18" r="7.45"/><circle cx="2170.46" cy="2733.25" r="7.45"/><circle cx="2174.9" cy="2772.77" r="7.45"/><circle cx="2179.34" cy="2773.37" r="7.45"/><circle cx="2183.78" cy="2771.57" r="7.45"/><circle cx="2188.23" cy="2771.57" r="7.45"/><circle cx="2192.67" cy="2736.18" r="7.45"/><circle cx="2197.11" cy="2771.57" r="7.45"/><circle cx="2201.55" cy="2770.38" r="7.45"/><circle cx="2205.99" cy="2771.21" r="7.45"/><circle cx="2210.43" cy="2736.18" r="7.45"/><circle cx="2214.87" cy="2185.9" r="7.45"/><circle cx="2219.31" cy="2757.68" r="7.45"/><circle cx="2223.75" cy="2770.38" r="7.45"/><circle cx="2228.2" cy="2736.18" r="7.45"/><circle cx="2232.64" cy="2763.79" r="7.45"/><circle cx="2237.08" cy="2773.37" r="7.45"/><circle cx="2241.52" cy="2736.18" r="7.45"/><circle cx="2245.96" cy="2770.98" r="7.45"/><circle cx="2250.4" cy="2762.83" r="7.45"/><circle cx="2254.84" cy="2771.57" r="7.45"/><circle cx="2259.28" cy="2772.17" r="7.45"/><circle cx="2263.72" cy="2736.18" r="7.45"/><circle cx="2268.17" cy="2773.37" r="7.45"/><circle cx="2272.61" cy="2736.18" r="7.45"/><circle cx="2277.05" cy="2736.18" r="7.45"/><circle cx="2281.49" cy="2736.18" r="7.45"/></g>
<circle cx="2214.87" cy="2185.9" r="11.25" fill="none" stroke="#1C6FE6" stroke-width="7.6"/>
<circle cx="1397.71" cy="2217.88" r="11.25" fill="none" stroke="#562B8C" stroke-width="7.6"/>
<circle cx="1477.65" cy="2752.29" r="11.25" fill="none" stroke="#562B8C" stroke-width="7.6"/>
<circle cx="1717.47" cy="2715.64" r="11.25" fill="none" stroke="#FC6A0C" stroke-width="7.6"/>
<circle cx="1726.35" cy="2708.1" r="11.25" fill="none" stroke="#FC6A0C" stroke-width="7.6"/>
<circle cx="1730.79" cy="2706.9" r="11.25" fill="none" stroke="#FC6A0C" stroke-width="7.6"/>
<circle cx="1739.68" cy="2686.12" r="11.25" fill="none" stroke="#FC6A0C" stroke-width="7.6"/>
<circle cx="1757.44" cy="2710.49" r="11.25" fill="none" stroke="#FC6A0C" stroke-width="7.6"/>
<circle cx="1761.88" cy="2708.93" r="11.25" fill="none" stroke="#FC6A0C" stroke-width="7.6"/>
<circle cx="1766.32" cy="2718.28" r="11.25" fill="none" stroke="#FC6A0C" stroke-width="7.6"/>
<circle cx="1770.76" cy="2741.69" r="11.25" fill="none" stroke="#FC6A0C" stroke-width="7.6"/>
<circle cx="1779.65" cy="2752.17" r="11.25" fill="none" stroke="#FC6A0C" stroke-width="7.6"/>
<circle cx="1788.53" cy="2750.37" r="11.25" fill="none" stroke="#FC6A0C" stroke-width="7.6"/>
<circle cx="1828.5" cy="2720.91" r="11.25" fill="none" stroke="#FC6A0C" stroke-width="7.6"/>
<circle cx="2050.55" cy="2631.32" r="11.25" fill="none" stroke="#FDD10A" stroke-width="7.6"/>
<circle cx="2068.32" cy="2631.32" r="11.25" fill="none" stroke="#FDD10A" stroke-width="7.6"/>
<circle cx="2081.64" cy="2631.32" r="11.25" fill="none" stroke="#FDD10A" stroke-width="7.6"/>
<circle cx="2094.96" cy="2631.32" r="11.25" fill="none" stroke="#FDD10A" stroke-width="7.6"/>
<circle cx="2099.4" cy="2631.32" r="11.25" fill="none" stroke="#FDD10A" stroke-width="7.6"/>
<circle cx="2157.14" cy="2736.18" r="11.25" fill="none" stroke="#FDD10A" stroke-width="7.6"/>
<circle cx="2161.58" cy="2736.18" r="11.25" fill="none" stroke="#FDD10A" stroke-width="7.6"/>
<circle cx="2166.02" cy="2736.18" r="11.25" fill="none" stroke="#FDD10A" stroke-width="7.6"/>
<circle cx="2170.46" cy="2733.25" r="11.25" fill="none" stroke="#FDD10A" stroke-width="7.6"/>
<circle cx="2192.67" cy="2736.18" r="11.25" fill="none" stroke="#FDD10A" stroke-width="7.6"/>
<circle cx="2210.43" cy="2736.18" r="11.25" fill="none" stroke="#FDD10A" stroke-width="7.6"/>
<circle cx="2228.2" cy="2736.18" r="11.25" fill="none" stroke="#FDD10A" stroke-width="7.6"/>
<circle cx="2241.52" cy="2736.18" r="11.25" fill="none" stroke="#FDD10A" stroke-width="7.6"/>
<circle cx="2263.72" cy="2736.18" r="11.25" fill="none" stroke="#FDD10A" stroke-width="7.6"/>
<circle cx="2272.61" cy="2736.18" r="11.25" fill="none" stroke="#FDD10A" stroke-width="7.6"/>
<circle cx="2277.05" cy="2736.18" r="11.25" fill="none" stroke="#FDD10A" stroke-width="7.6"/>
<circle cx="2281.49" cy="2736.18" r="11.25" fill="none" stroke="#FDD10A" stroke-width="7.6"/>
<g fill="#D83D5B"><circle cx="1397.71" cy="2217.88" r="7.45"/><circle cx="1615.32" cy="2766.48" r="7.45"/><circle cx="1837.38" cy="2768.88" r="7.45"/><circle cx="2059.43" cy="2757.68" r="7.45"/></g>
</svg></body></html>
